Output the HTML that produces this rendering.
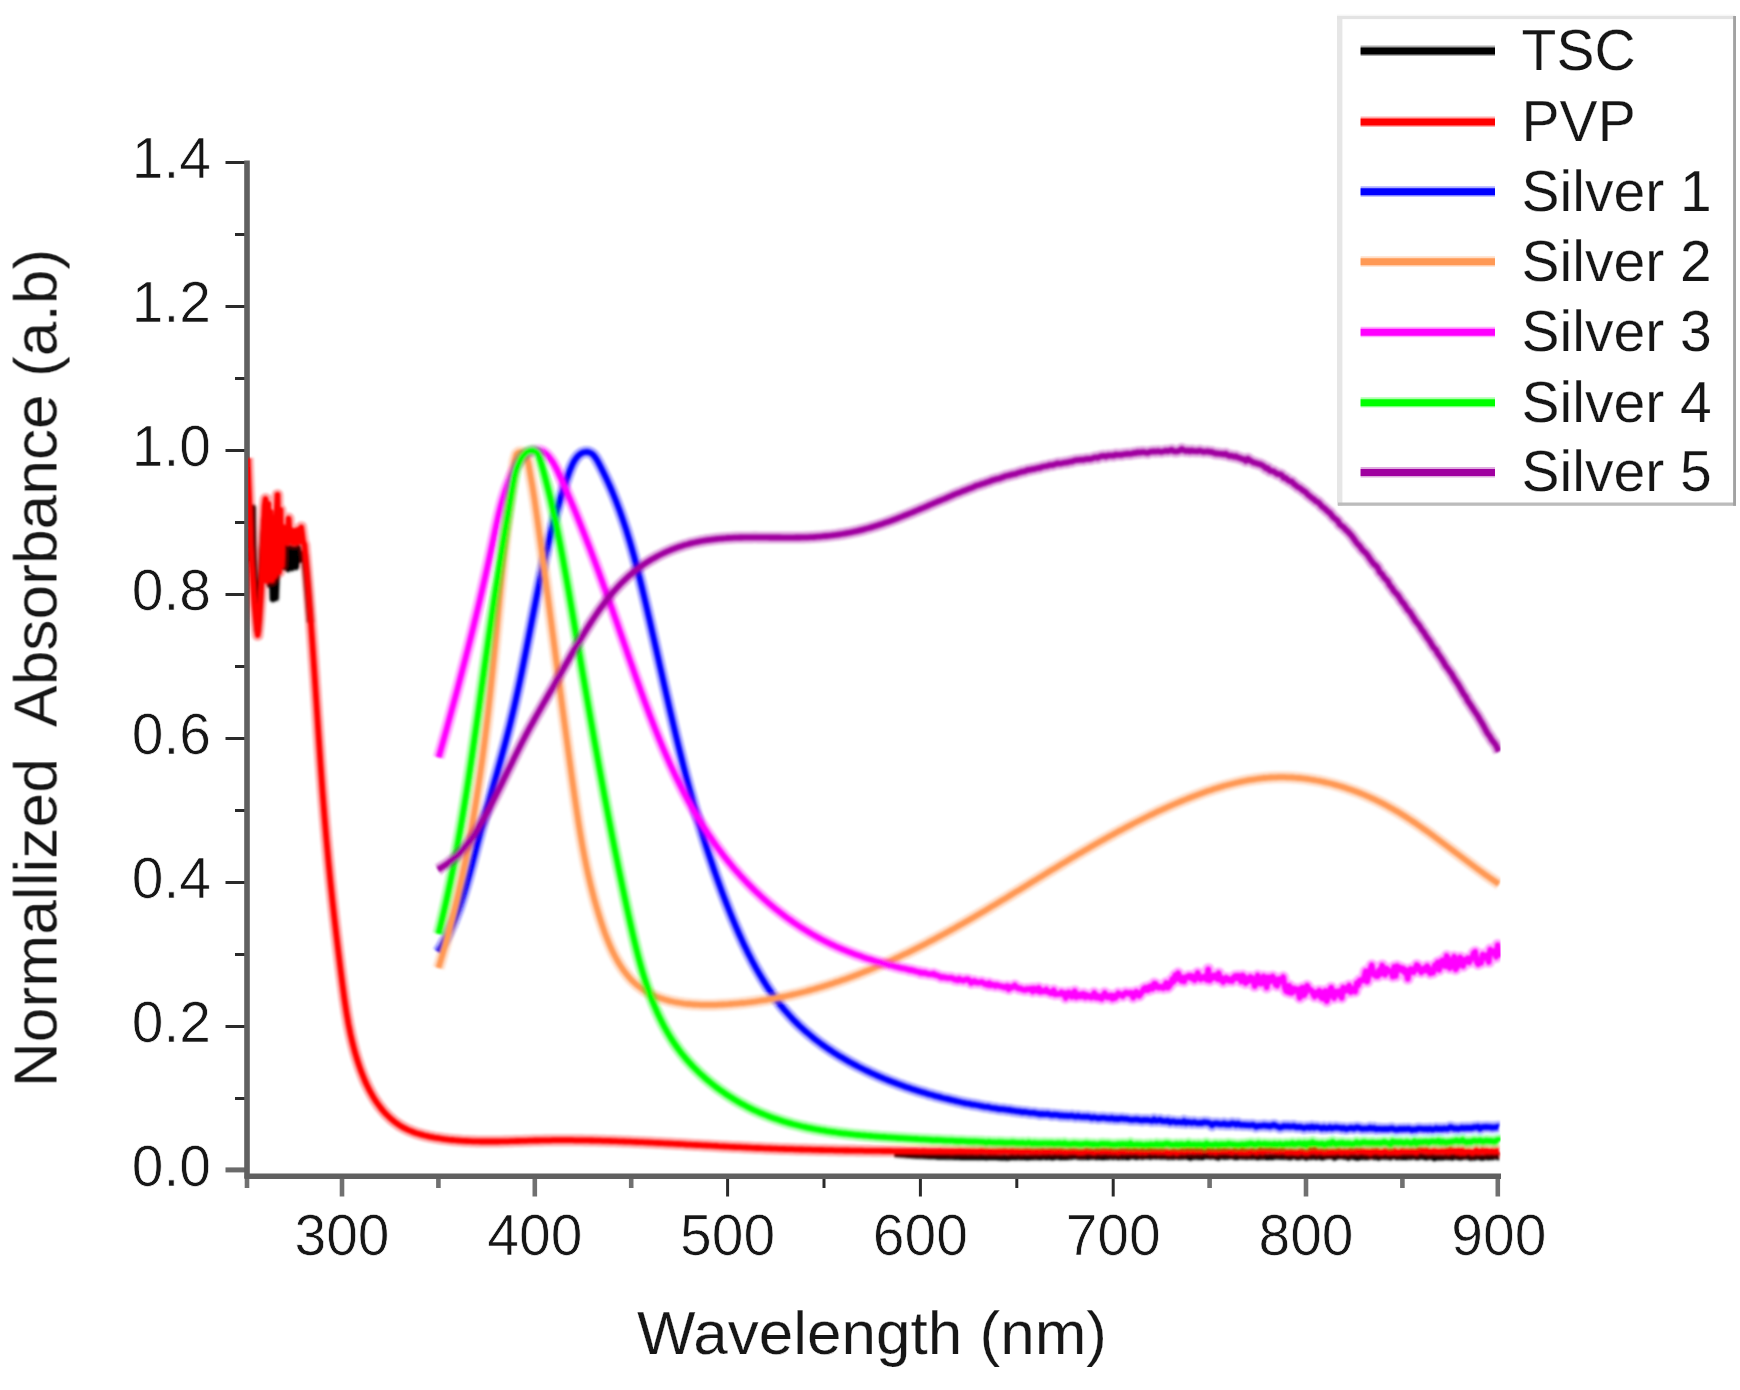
<!DOCTYPE html>
<html lang="en"><head><meta charset="utf-8"><title>Normalized absorbance spectra</title>
<style>html,body{margin:0;padding:0;background:#fff}body{width:1740px;height:1390px;overflow:hidden}svg{display:block}text{font-family:"Liberation Sans",sans-serif;fill:#141414;stroke:#fff;stroke-width:0.25px;paint-order:fill stroke}text.tk{stroke-width:0.7px;fill:#121212}</style></head><body>
<svg width="1740" height="1390" viewBox="0 0 1740 1390">
<defs><filter id="soft" x="-2%" y="-2%" width="104%" height="104%"><feGaussianBlur stdDeviation="0.6"/></filter><filter id="softer" x="-2%" y="-2%" width="104%" height="104%"><feGaussianBlur stdDeviation="0.7"/></filter><filter id="cblur" x="-2%" y="-2%" width="104%" height="104%"><feGaussianBlur stdDeviation="0.9"/></filter><clipPath id="plot"><rect x="248.2" y="150" width="1252.4" height="1040"/></clipPath><path id="c0" d="M249.0,530.0 L251.0,560.0 L252.2,530.0 L252.8,508.0 L253.2,548.0 L255.5,600.0 L257.6,630.0 L260.0,592.0 L262.4,548.0 L264.6,520.0 L266.5,560.0 L268.5,540.0 L270.0,585.0 L271.4,560.0 L272.8,599.0 L274.4,572.0 L275.8,598.0 L277.3,560.0 L279.0,540.0 L280.6,561.0 L282.5,545.0 L284.0,567.0 L286.0,548.0 L288.0,569.0 L290.0,548.0 L292.0,568.0 L294.0,549.0 L296.0,567.0 L298.0,548.0 L300.0,560.0 L302.0,554.0 L304.4,556.0 L306.4,575.0 L306.4,575.0 L308.4,597.9 L310.4,622.5 M894.4,1153.9 L896.4,1154.1 L898.4,1154.3 L900.4,1154.4 L902.4,1154.6 L904.4,1154.7 L906.4,1154.9 L908.4,1155.0 L910.4,1155.1 L912.4,1155.3 L914.4,1155.4 L916.4,1155.5 L918.4,1155.6 L920.4,1155.7 L922.4,1155.7 L924.4,1155.8 L926.4,1155.9 L928.4,1156.0 L930.4,1156.2 L932.4,1156.2 L934.4,1156.2 L936.4,1156.3 L938.4,1156.6 L940.4,1156.4 L942.4,1156.5 L944.4,1156.6 L946.4,1156.7 L948.4,1156.7 L950.4,1156.6 L952.4,1156.7 L954.4,1156.8 L956.4,1156.8 L958.4,1156.7 L960.4,1157.0 L962.4,1157.0 L964.4,1156.9 L966.4,1157.0 L968.4,1157.1 L970.4,1157.0 L972.4,1156.9 L974.4,1157.1 L976.4,1156.9 L978.4,1157.2 L980.4,1157.0 L982.4,1157.1 L984.4,1157.1 L986.4,1157.4 L988.4,1157.0 L990.4,1157.0 L992.4,1157.1 L994.4,1157.0 L996.4,1157.1 L998.4,1157.3 L1000.4,1157.3 L1002.4,1157.5 L1004.4,1157.1 L1006.4,1157.7 L1008.4,1157.6 L1010.4,1157.2 L1012.4,1156.8 L1014.4,1157.2 L1016.4,1157.2 L1018.4,1156.7 L1020.4,1157.2 L1022.4,1157.1 L1024.4,1157.0 L1026.4,1157.3 L1028.4,1157.3 L1030.4,1157.0 L1032.4,1157.1 L1034.4,1156.9 L1036.4,1156.9 L1038.4,1157.1 L1040.4,1157.2 L1042.4,1156.9 L1044.4,1156.5 L1046.4,1157.1 L1048.4,1156.6 L1050.4,1157.0 L1052.4,1157.4 L1054.4,1156.9 L1056.4,1156.6 L1058.4,1156.5 L1060.4,1157.2 L1062.4,1156.9 L1064.4,1157.0 L1066.4,1157.1 L1068.4,1156.8 L1070.4,1156.7 L1072.4,1156.5 L1074.4,1155.9 L1076.4,1156.3 L1078.4,1156.8 L1080.4,1156.7 L1082.4,1156.9 L1084.4,1156.7 L1086.4,1156.8 L1088.4,1157.0 L1090.4,1156.4 L1092.4,1156.6 L1094.4,1156.2 L1096.4,1157.0 L1098.4,1156.7 L1100.4,1156.8 L1102.4,1157.2 L1104.4,1157.0 L1106.4,1156.6 L1108.4,1156.9 L1110.4,1156.1 L1112.4,1156.8 L1114.4,1156.7 L1116.4,1156.0 L1118.4,1157.1 L1120.4,1156.3 L1122.4,1156.9 L1124.4,1156.4 L1126.4,1157.0 L1128.4,1157.1 L1130.4,1156.3 L1132.4,1156.0 L1134.4,1156.5 L1136.4,1156.9 L1138.4,1156.4 L1140.4,1156.3 L1142.4,1156.8 L1144.4,1155.4 L1146.4,1156.3 L1148.4,1156.0 L1150.4,1156.7 L1152.4,1156.2 L1154.4,1156.1 L1156.4,1156.4 L1158.4,1155.9 L1160.4,1156.5 L1162.4,1156.2 L1164.4,1156.4 L1166.4,1156.2 L1168.4,1156.9 L1170.4,1156.5 L1172.4,1156.8 L1174.4,1156.7 L1176.4,1156.2 L1178.4,1156.8 L1180.4,1156.7 L1182.4,1156.7 L1184.4,1156.3 L1186.4,1156.3 L1188.4,1156.9 L1190.4,1157.6 L1192.4,1156.1 L1194.4,1156.8 L1196.4,1156.3 L1198.4,1156.9 L1200.4,1156.7 L1202.4,1157.1 L1204.4,1155.1 L1206.4,1156.2 L1208.4,1156.0 L1210.4,1156.5 L1212.4,1156.2 L1214.4,1156.2 L1216.4,1156.9 L1218.4,1157.5 L1220.4,1155.1 L1222.4,1156.4 L1224.4,1156.7 L1226.4,1156.6 L1228.4,1156.4 L1230.4,1155.9 L1232.4,1156.1 L1234.4,1156.9 L1236.4,1157.1 L1238.4,1156.6 L1240.4,1156.2 L1242.4,1156.6 L1244.4,1156.5 L1246.4,1156.9 L1248.4,1156.6 L1250.4,1156.3 L1252.4,1156.7 L1254.4,1156.0 L1256.4,1157.0 L1258.4,1157.2 L1260.4,1156.0 L1262.4,1156.8 L1264.4,1156.1 L1266.4,1157.1 L1268.4,1157.1 L1270.4,1156.5 L1272.4,1157.1 L1274.4,1156.4 L1276.4,1156.3 L1278.4,1156.4 L1280.4,1156.6 L1282.4,1156.5 L1284.4,1156.7 L1286.4,1156.3 L1288.4,1157.0 L1290.4,1157.2 L1292.4,1156.4 L1294.4,1156.0 L1296.4,1157.0 L1298.4,1157.2 L1300.4,1156.6 L1302.4,1156.0 L1304.4,1156.8 L1306.4,1157.5 L1308.4,1155.8 L1310.4,1156.9 L1312.4,1156.6 L1314.4,1156.3 L1316.4,1157.0 L1318.4,1156.1 L1320.4,1156.9 L1322.4,1157.4 L1324.4,1156.8 L1326.4,1156.3 L1328.4,1155.9 L1330.4,1156.1 L1332.4,1155.8 L1334.4,1157.6 L1336.4,1156.6 L1338.4,1156.2 L1340.4,1156.1 L1342.4,1156.2 L1344.4,1156.6 L1346.4,1156.1 L1348.4,1157.6 L1350.4,1156.4 L1352.4,1156.4 L1354.4,1156.9 L1356.4,1157.5 L1358.4,1157.5 L1360.4,1156.6 L1362.4,1156.9 L1364.4,1156.9 L1366.4,1157.1 L1368.4,1156.9 L1370.4,1156.3 L1372.4,1156.2 L1374.4,1156.9 L1376.4,1156.2 L1378.4,1157.5 L1380.4,1156.8 L1382.4,1156.3 L1384.4,1156.7 L1386.4,1156.6 L1388.4,1156.8 L1390.4,1157.3 L1392.4,1156.1 L1394.4,1155.9 L1396.4,1157.0 L1398.4,1156.8 L1400.4,1156.9 L1402.4,1157.1 L1404.4,1156.8 L1406.4,1157.2 L1408.4,1156.4 L1410.4,1156.9 L1412.4,1156.4 L1414.4,1156.3 L1416.4,1157.2 L1418.4,1157.1 L1420.4,1155.9 L1422.4,1156.3 L1424.4,1157.0 L1426.4,1157.4 L1428.4,1156.5 L1430.4,1156.8 L1432.4,1156.1 L1434.4,1158.1 L1436.4,1157.1 L1438.4,1157.3 L1440.4,1157.2 L1442.4,1157.3 L1444.4,1157.1 L1446.4,1156.7 L1448.4,1157.2 L1450.4,1156.9 L1452.4,1157.5 L1454.4,1156.5 L1456.4,1156.5 L1458.4,1157.1 L1460.4,1157.4 L1462.4,1156.9 L1464.4,1156.4 L1466.4,1156.7 L1468.4,1156.5 L1470.4,1157.7 L1472.4,1157.2 L1474.4,1157.4 L1476.4,1156.9 L1478.4,1156.5 L1480.4,1157.3 L1482.4,1157.6 L1484.4,1157.0 L1486.4,1156.7 L1488.4,1157.3 L1490.4,1156.5 L1492.4,1157.1 L1494.4,1156.4 L1496.4,1156.2 L1498.4,1157.0 L1499.0,1156.9"/><path id="c1" d="M247.6,458.0 L248.6,485.0 L249.5,506.0 L250.0,525.0 L250.6,545.0 L251.6,562.0 L253.0,582.0 L254.4,603.0 L256.2,622.0 L257.7,635.0 L259.2,620.0 L260.6,598.0 L262.2,566.0 L263.4,532.0 L264.6,506.0 L265.6,499.0 L266.4,540.0 L267.0,581.0 L267.8,540.0 L268.4,504.0 L269.4,576.0 L270.6,512.0 L272.0,580.0 L273.6,518.0 L275.0,576.0 L276.4,520.0 L277.5,495.0 L278.4,540.0 L279.2,572.0 L280.5,510.0 L281.8,566.0 L283.0,527.0 L284.4,541.0 L286.0,528.0 L287.4,543.0 L288.6,518.6 L290.0,541.0 L291.5,530.0 L293.0,543.0 L294.5,531.0 L296.0,543.0 L297.6,530.0 L299.4,542.0 L301.2,527.3 L303.0,541.0 L304.5,545.0 L304.5,545.0 L306.5,566.9 L308.5,590.8 L310.5,616.7 L312.5,644.5 L314.5,673.9 L316.5,704.1 L318.5,734.3 L320.5,763.5 L322.5,791.1 L324.5,816.7 L326.5,840.3 L328.5,861.9 L330.5,882.1 L332.5,901.0 L334.5,919.0 L336.5,936.3 L338.5,952.9 L340.5,969.0 L342.5,984.6 L344.5,999.5 L346.5,1012.7 L348.5,1024.2 L350.5,1034.1 L352.5,1042.8 L354.5,1050.6 L356.5,1057.5 L358.5,1063.8 L360.5,1069.6 L362.5,1074.8 L364.5,1079.7 L366.5,1084.2 L368.5,1088.3 L370.5,1092.1 L372.5,1095.7 L374.5,1099.0 L376.5,1102.1 L378.5,1104.9 L380.5,1107.6 L382.5,1110.1 L384.5,1112.4 L386.5,1114.5 L388.5,1116.5 L390.5,1118.4 L392.5,1120.1 L394.5,1121.7 L396.5,1123.2 L398.5,1124.6 L400.5,1125.9 L402.5,1127.1 L404.5,1128.2 L406.5,1129.2 L408.5,1130.1 L410.5,1130.9 L412.5,1131.7 L414.5,1132.5 L416.5,1133.2 L418.5,1133.8 L420.5,1134.4 L422.5,1134.9 L424.5,1135.5 L426.5,1135.9 L428.5,1136.4 L430.5,1136.8 L432.5,1137.2 L434.5,1137.6 L436.5,1137.9 L438.5,1138.2 L440.5,1138.5 L442.5,1138.8 L444.5,1139.1 L446.5,1139.3 L448.5,1139.6 L450.5,1139.8 L452.5,1140.0 L454.5,1140.2 L456.5,1140.3 L458.5,1140.5 L460.5,1140.6 L462.5,1140.8 L464.5,1140.9 L466.5,1141.0 L468.5,1141.1 L470.5,1141.2 L472.5,1141.3 L474.5,1141.3 L476.5,1141.4 L478.5,1141.4 L480.5,1141.5 L482.5,1141.5 L484.5,1141.5 L486.5,1141.5 L488.5,1141.5 L490.5,1141.5 L492.5,1141.5 L494.5,1141.5 L496.5,1141.5 L498.5,1141.5 L500.5,1141.4 L502.5,1141.4 L504.5,1141.3 L506.5,1141.3 L508.5,1141.3 L510.5,1141.2 L512.5,1141.2 L514.5,1141.1 L516.5,1141.0 L518.5,1141.0 L520.5,1140.9 L522.5,1140.9 L524.5,1140.8 L526.5,1140.8 L528.5,1140.7 L530.5,1140.7 L532.5,1140.6 L534.5,1140.5 L536.5,1140.5 L538.5,1140.5 L540.5,1140.4 L542.5,1140.4 L544.5,1140.3 L546.5,1140.3 L548.5,1140.3 L550.5,1140.3 L552.5,1140.2 L554.5,1140.2 L556.5,1140.2 L558.5,1140.2 L560.5,1140.2 L562.5,1140.2 L564.5,1140.2 L566.5,1140.2 L568.5,1140.2 L570.5,1140.2 L572.5,1140.2 L574.5,1140.3 L576.5,1140.3 L578.5,1140.3 L580.5,1140.3 L582.5,1140.3 L584.5,1140.4 L586.5,1140.4 L588.5,1140.4 L590.5,1140.5 L592.5,1140.5 L594.5,1140.6 L596.5,1140.6 L598.5,1140.7 L600.5,1140.7 L602.5,1140.8 L604.5,1140.8 L606.5,1140.9 L608.5,1140.9 L610.5,1141.0 L612.5,1141.1 L614.5,1141.1 L616.5,1141.2 L618.5,1141.3 L620.5,1141.3 L622.5,1141.4 L624.5,1141.5 L626.5,1141.6 L628.5,1141.6 L630.5,1141.7 L632.5,1141.8 L634.5,1141.9 L636.5,1142.0 L638.5,1142.1 L640.5,1142.2 L642.5,1142.2 L644.5,1142.3 L646.5,1142.4 L648.5,1142.5 L650.5,1142.6 L652.5,1142.7 L654.5,1142.8 L656.5,1142.9 L658.5,1143.0 L660.5,1143.1 L662.5,1143.2 L664.5,1143.3 L666.5,1143.4 L668.5,1143.5 L670.5,1143.6 L672.5,1143.7 L674.5,1143.8 L676.5,1143.9 L678.5,1144.0 L680.5,1144.1 L682.5,1144.2 L684.5,1144.3 L686.5,1144.5 L688.5,1144.6 L690.5,1144.7 L692.5,1144.8 L694.5,1144.9 L696.5,1145.0 L698.5,1145.1 L700.5,1145.2 L702.5,1145.3 L704.5,1145.4 L706.5,1145.5 L708.5,1145.6 L710.5,1145.7 L712.5,1145.8 L714.5,1145.9 L716.5,1146.0 L718.5,1146.2 L720.5,1146.3 L722.5,1146.4 L724.5,1146.5 L726.5,1146.6 L728.5,1146.7 L730.5,1146.8 L732.5,1146.9 L734.5,1147.0 L736.5,1147.1 L738.5,1147.1 L740.5,1147.2 L742.5,1147.3 L744.5,1147.4 L746.5,1147.5 L748.5,1147.6 L750.5,1147.7 L752.5,1147.8 L754.5,1147.9 L756.5,1148.0 L758.5,1148.0 L760.5,1148.1 L762.5,1148.2 L764.5,1148.3 L766.5,1148.4 L768.5,1148.4 L770.5,1148.5 L772.5,1148.6 L774.5,1148.7 L776.5,1148.7 L778.5,1148.8 L780.5,1148.9 L782.5,1148.9 L784.5,1149.0 L786.5,1149.1 L788.5,1149.1 L790.5,1149.2 L792.5,1149.2 L794.5,1149.3 L796.5,1149.4 L798.5,1149.4 L800.5,1149.5 L802.5,1149.5 L804.5,1149.6 L806.5,1149.6 L808.5,1149.7 L810.5,1149.7 L812.5,1149.8 L814.5,1149.8 L816.5,1149.9 L818.5,1149.9 L820.5,1150.0 L822.5,1150.0 L824.5,1150.1 L826.5,1150.1 L828.5,1150.2 L830.5,1150.2 L832.5,1150.2 L834.5,1150.3 L836.5,1150.3 L838.5,1150.4 L840.5,1150.4 L842.5,1150.4 L844.5,1150.5 L846.5,1150.5 L848.5,1150.5 L850.5,1150.6 L852.5,1150.6 L854.5,1150.6 L856.5,1150.7 L858.5,1150.7 L860.5,1150.7 L862.5,1150.7 L864.5,1150.8 L866.5,1150.8 L868.5,1150.8 L870.5,1150.8 L872.5,1150.9 L874.5,1150.9 L876.5,1150.9 L878.5,1150.9 L880.5,1150.9 L882.5,1151.0 L884.5,1151.0 L886.5,1151.0 L888.5,1151.0 L890.5,1151.0 L892.5,1151.1 L894.5,1151.1 L896.5,1151.1 L898.5,1151.1 L900.5,1151.1 L902.5,1151.1 L904.5,1151.1 L906.5,1151.2 L908.5,1151.2 L910.5,1151.2 L912.5,1151.2 L914.5,1151.2 L916.5,1151.2 L918.5,1151.3 L920.5,1151.3 L922.5,1151.2 L924.5,1151.2 L926.5,1151.3 L928.5,1151.4 L930.5,1151.3 L932.5,1151.3 L934.5,1151.3 L936.5,1151.3 L938.5,1151.3 L940.5,1151.2 L942.5,1151.3 L944.5,1151.3 L946.5,1151.3 L948.5,1151.4 L950.5,1151.5 L952.5,1151.5 L954.5,1151.3 L956.5,1151.3 L958.5,1151.3 L960.5,1151.2 L962.5,1151.4 L964.5,1151.4 L966.5,1151.4 L968.5,1151.4 L970.5,1151.4 L972.5,1151.3 L974.5,1151.3 L976.5,1151.6 L978.5,1151.5 L980.5,1151.2 L982.5,1151.2 L984.5,1151.3 L986.5,1151.4 L988.5,1151.6 L990.5,1151.6 L992.5,1151.6 L994.5,1151.6 L996.5,1151.6 L998.5,1151.5 L1000.5,1151.5 L1002.5,1151.4 L1004.5,1151.0 L1006.5,1151.3 L1008.5,1151.8 L1010.5,1151.3 L1012.5,1151.2 L1014.5,1151.6 L1016.5,1151.4 L1018.5,1151.3 L1020.5,1151.8 L1022.5,1151.5 L1024.5,1151.6 L1026.5,1151.2 L1028.5,1151.5 L1030.5,1151.5 L1032.5,1151.6 L1034.5,1151.7 L1036.5,1151.7 L1038.5,1151.4 L1040.5,1151.6 L1042.5,1151.1 L1044.5,1151.6 L1046.5,1151.6 L1048.5,1151.3 L1050.5,1151.2 L1052.5,1151.4 L1054.5,1151.0 L1056.5,1151.5 L1058.5,1151.5 L1060.5,1151.1 L1062.5,1151.4 L1064.5,1151.8 L1066.5,1151.8 L1068.5,1151.7 L1070.5,1151.4 L1072.5,1151.3 L1074.5,1151.3 L1076.5,1151.6 L1078.5,1152.3 L1080.5,1151.9 L1082.5,1152.0 L1084.5,1151.9 L1086.5,1150.8 L1088.5,1151.3 L1090.5,1151.3 L1092.5,1151.9 L1094.5,1152.1 L1096.5,1151.2 L1098.5,1151.4 L1100.5,1151.6 L1102.5,1151.2 L1104.5,1151.2 L1106.5,1151.2 L1108.5,1151.8 L1110.5,1151.0 L1112.5,1151.9 L1114.5,1151.5 L1116.5,1151.8 L1118.5,1152.1 L1120.5,1151.1 L1122.5,1151.1 L1124.5,1151.6 L1126.5,1151.0 L1128.5,1151.1 L1130.5,1151.4 L1132.5,1151.5 L1134.5,1150.9 L1136.5,1151.3 L1138.5,1151.7 L1140.5,1152.1 L1142.5,1150.5 L1144.5,1152.1 L1146.5,1151.9 L1148.5,1150.9 L1150.5,1150.7 L1152.5,1151.7 L1154.5,1151.2 L1156.5,1151.5 L1158.5,1151.9 L1160.5,1151.3 L1162.5,1151.5 L1164.5,1151.7 L1166.5,1151.9 L1168.5,1152.4 L1170.5,1152.4 L1172.5,1151.6 L1174.5,1151.3 L1176.5,1152.8 L1178.5,1151.8 L1180.5,1151.7 L1182.5,1150.9 L1184.5,1151.9 L1186.5,1151.0 L1188.5,1151.2 L1190.5,1150.7 L1192.5,1151.2 L1194.5,1151.5 L1196.5,1150.6 L1198.5,1151.0 L1200.5,1151.4 L1202.5,1150.7 L1204.5,1150.7 L1206.5,1151.0 L1208.5,1150.7 L1210.5,1151.9 L1212.5,1150.9 L1214.5,1152.0 L1216.5,1152.0 L1218.5,1150.8 L1220.5,1151.5 L1222.5,1151.2 L1224.5,1150.8 L1226.5,1151.3 L1228.5,1151.4 L1230.5,1151.9 L1232.5,1152.1 L1234.5,1150.8 L1236.5,1151.3 L1238.5,1151.8 L1240.5,1152.2 L1242.5,1150.0 L1244.5,1152.3 L1246.5,1151.4 L1248.5,1152.4 L1250.5,1151.3 L1252.5,1151.0 L1254.5,1151.5 L1256.5,1152.2 L1258.5,1151.5 L1260.5,1150.1 L1262.5,1151.9 L1264.5,1150.6 L1266.5,1150.9 L1268.5,1150.8 L1270.5,1150.4 L1272.5,1150.8 L1274.5,1150.9 L1276.5,1151.2 L1278.5,1151.5 L1280.5,1151.3 L1282.5,1150.6 L1284.5,1151.4 L1286.5,1152.1 L1288.5,1152.1 L1290.5,1151.6 L1292.5,1151.9 L1294.5,1152.1 L1296.5,1152.3 L1298.5,1152.5 L1300.5,1151.3 L1302.5,1151.4 L1304.5,1152.4 L1306.5,1152.5 L1308.5,1152.5 L1310.5,1150.1 L1312.5,1151.4 L1314.5,1149.6 L1316.5,1152.0 L1318.5,1151.6 L1320.5,1151.6 L1322.5,1151.5 L1324.5,1152.3 L1326.5,1151.4 L1328.5,1152.2 L1330.5,1151.9 L1332.5,1151.8 L1334.5,1151.8 L1336.5,1151.6 L1338.5,1150.9 L1340.5,1152.0 L1342.5,1152.0 L1344.5,1151.5 L1346.5,1152.0 L1348.5,1152.1 L1350.5,1150.8 L1352.5,1151.5 L1354.5,1151.3 L1356.5,1151.0 L1358.5,1151.7 L1360.5,1151.0 L1362.5,1151.3 L1364.5,1151.7 L1366.5,1151.8 L1368.5,1151.7 L1370.5,1152.9 L1372.5,1151.2 L1374.5,1151.7 L1376.5,1150.8 L1378.5,1151.8 L1380.5,1152.2 L1382.5,1152.3 L1384.5,1151.2 L1386.5,1151.4 L1388.5,1152.3 L1390.5,1151.5 L1392.5,1152.1 L1394.5,1151.0 L1396.5,1152.4 L1398.5,1152.2 L1400.5,1151.8 L1402.5,1151.1 L1404.5,1151.4 L1406.5,1151.6 L1408.5,1151.7 L1410.5,1151.5 L1412.5,1151.4 L1414.5,1151.7 L1416.5,1152.4 L1418.5,1150.3 L1420.5,1150.7 L1422.5,1150.6 L1424.5,1151.1 L1426.5,1150.5 L1428.5,1151.9 L1430.5,1151.6 L1432.5,1151.4 L1434.5,1151.1 L1436.5,1151.6 L1438.5,1151.6 L1440.5,1151.7 L1442.5,1151.1 L1444.5,1151.9 L1446.5,1150.7 L1448.5,1152.3 L1450.5,1149.7 L1452.5,1151.2 L1454.5,1150.8 L1456.5,1152.0 L1458.5,1150.6 L1460.5,1152.6 L1462.5,1150.6 L1464.5,1152.7 L1466.5,1151.8 L1468.5,1151.5 L1470.5,1151.8 L1472.5,1152.8 L1474.5,1152.1 L1476.5,1150.2 L1478.5,1152.2 L1480.5,1151.7 L1482.5,1150.5 L1484.5,1152.0 L1486.5,1150.8 L1488.5,1151.6 L1490.5,1151.6 L1492.5,1151.1 L1494.5,1151.9 L1496.5,1150.9 L1498.5,1151.6 L1499.0,1151.2"/><path id="c2" d="M438.0,952.0 L440.0,948.8 L442.0,945.5 L444.0,941.9 L446.0,938.2 L448.0,934.3 L450.0,930.1 L452.0,925.7 L454.0,921.1 L456.0,916.1 L458.0,910.9 L460.0,905.3 L462.0,899.3 L464.0,893.0 L466.0,886.3 L468.0,879.3 L470.0,872.0 L472.0,864.4 L474.0,856.7 L476.0,849.0 L478.0,841.3 L480.0,833.8 L482.0,826.4 L484.0,819.2 L486.0,812.0 L488.0,804.9 L490.0,797.8 L492.0,790.8 L494.0,783.7 L496.0,776.7 L498.0,769.6 L500.0,762.4 L502.0,755.1 L504.0,747.7 L506.0,740.2 L508.0,732.5 L510.0,724.6 L512.0,716.3 L514.0,707.8 L516.0,699.0 L518.0,689.9 L520.0,680.5 L522.0,670.8 L524.0,660.9 L526.0,650.8 L528.0,640.6 L530.0,630.4 L532.0,620.1 L534.0,609.9 L536.0,599.8 L538.0,589.9 L540.0,580.2 L542.0,570.8 L544.0,561.7 L546.0,552.9 L548.0,544.4 L550.0,536.2 L552.0,528.3 L554.0,520.8 L556.0,513.5 L558.0,506.6 L560.0,499.9 L562.0,493.5 L564.0,487.3 L566.0,481.3 L568.0,475.5 L570.0,470.1 L572.0,465.3 L574.0,461.4 L576.0,458.3 L578.0,455.9 L580.0,454.2 L582.0,453.0 L584.0,452.3 L586.0,452.0 L588.0,452.1 L590.0,452.7 L592.0,453.8 L594.0,455.7 L596.0,458.4 L598.0,461.9 L600.0,465.7 L602.0,469.6 L604.0,473.6 L606.0,477.8 L608.0,482.1 L610.0,486.5 L612.0,491.2 L614.0,496.0 L616.0,501.0 L618.0,506.2 L620.0,511.6 L622.0,517.2 L624.0,523.1 L626.0,529.2 L628.0,535.6 L630.0,542.2 L632.0,549.1 L634.0,556.3 L636.0,563.8 L638.0,571.5 L640.0,579.5 L642.0,587.7 L644.0,596.1 L646.0,604.6 L648.0,613.3 L650.0,622.0 L652.0,630.8 L654.0,639.6 L656.0,648.5 L658.0,657.4 L660.0,666.3 L662.0,675.2 L664.0,684.1 L666.0,692.9 L668.0,701.6 L670.0,710.3 L672.0,718.9 L674.0,727.4 L676.0,735.8 L678.0,744.1 L680.0,752.2 L682.0,760.3 L684.0,768.2 L686.0,775.9 L688.0,783.5 L690.0,791.0 L692.0,798.3 L694.0,805.5 L696.0,812.5 L698.0,819.4 L700.0,826.1 L702.0,832.7 L704.0,839.2 L706.0,845.6 L708.0,851.8 L710.0,857.9 L712.0,863.8 L714.0,869.7 L716.0,875.4 L718.0,881.0 L720.0,886.5 L722.0,891.9 L724.0,897.2 L726.0,902.4 L728.0,907.5 L730.0,912.5 L732.0,917.4 L734.0,922.2 L736.0,926.9 L738.0,931.5 L740.0,936.0 L742.0,940.4 L744.0,944.7 L746.0,948.8 L748.0,952.9 L750.0,956.8 L752.0,960.7 L754.0,964.4 L756.0,968.1 L758.0,971.6 L760.0,975.0 L762.0,978.4 L764.0,981.6 L766.0,984.8 L768.0,987.8 L770.0,990.8 L772.0,993.7 L774.0,996.5 L776.0,999.2 L778.0,1001.8 L780.0,1004.4 L782.0,1006.9 L784.0,1009.3 L786.0,1011.6 L788.0,1013.9 L790.0,1016.1 L792.0,1018.3 L794.0,1020.4 L796.0,1022.4 L798.0,1024.4 L800.0,1026.3 L802.0,1028.1 L804.0,1030.0 L806.0,1031.7 L808.0,1033.4 L810.0,1035.1 L812.0,1036.8 L814.0,1038.4 L816.0,1040.0 L818.0,1041.5 L820.0,1043.0 L822.0,1044.5 L824.0,1045.9 L826.0,1047.3 L828.0,1048.7 L830.0,1050.0 L832.0,1051.4 L834.0,1052.7 L836.0,1053.9 L838.0,1055.2 L840.0,1056.4 L842.0,1057.6 L844.0,1058.8 L846.0,1059.9 L848.0,1061.1 L850.0,1062.2 L852.0,1063.3 L854.0,1064.4 L856.0,1065.4 L858.0,1066.5 L860.0,1067.5 L862.0,1068.5 L864.0,1069.5 L866.0,1070.5 L868.0,1071.4 L870.0,1072.4 L872.0,1073.3 L874.0,1074.2 L876.0,1075.1 L878.0,1076.0 L880.0,1076.9 L882.0,1077.7 L884.0,1078.6 L886.0,1079.4 L888.0,1080.2 L890.0,1081.0 L892.0,1081.8 L894.0,1082.5 L896.0,1083.3 L898.0,1084.1 L900.0,1084.8 L902.0,1085.5 L904.0,1086.2 L906.0,1087.0 L908.0,1087.6 L910.0,1088.3 L912.0,1089.0 L914.0,1089.6 L916.0,1090.3 L918.0,1090.9 L920.0,1091.5 L922.0,1092.1 L924.0,1092.6 L926.0,1093.2 L928.0,1093.9 L930.0,1094.5 L932.0,1094.9 L934.0,1095.6 L936.0,1096.2 L938.0,1096.6 L940.0,1097.1 L942.0,1097.7 L944.0,1098.2 L946.0,1098.7 L948.0,1099.1 L950.0,1099.6 L952.0,1100.1 L954.0,1100.5 L956.0,1101.1 L958.0,1101.5 L960.0,1102.0 L962.0,1102.5 L964.0,1102.9 L966.0,1103.3 L968.0,1103.6 L970.0,1103.9 L972.0,1104.6 L974.0,1104.6 L976.0,1105.0 L978.0,1105.3 L980.0,1105.8 L982.0,1106.2 L984.0,1106.6 L986.0,1106.8 L988.0,1106.9 L990.0,1107.5 L992.0,1107.9 L994.0,1108.1 L996.0,1108.4 L998.0,1108.8 L1000.0,1109.2 L1002.0,1109.2 L1004.0,1109.3 L1006.0,1109.7 L1008.0,1110.0 L1010.0,1110.0 L1012.0,1110.7 L1014.0,1110.7 L1016.0,1111.2 L1018.0,1111.4 L1020.0,1111.5 L1022.0,1112.1 L1024.0,1111.9 L1026.0,1112.1 L1028.0,1112.5 L1030.0,1112.9 L1032.0,1112.9 L1034.0,1112.9 L1036.0,1113.4 L1038.0,1113.6 L1040.0,1114.2 L1042.0,1113.8 L1044.0,1114.1 L1046.0,1114.1 L1048.0,1114.0 L1050.0,1114.6 L1052.0,1115.0 L1054.0,1114.6 L1056.0,1114.9 L1058.0,1114.9 L1060.0,1115.7 L1062.0,1115.4 L1064.0,1115.8 L1066.0,1115.6 L1068.0,1116.0 L1070.0,1115.9 L1072.0,1115.6 L1074.0,1116.4 L1076.0,1116.7 L1078.0,1116.0 L1080.0,1116.7 L1082.0,1116.8 L1084.0,1116.7 L1086.0,1117.0 L1088.0,1116.6 L1090.0,1117.4 L1092.0,1117.9 L1094.0,1117.2 L1096.0,1117.7 L1098.0,1118.3 L1100.0,1118.0 L1102.0,1117.8 L1104.0,1117.8 L1106.0,1118.3 L1108.0,1118.3 L1110.0,1118.7 L1112.0,1118.0 L1114.0,1119.0 L1116.0,1118.6 L1118.0,1119.1 L1120.0,1118.7 L1122.0,1118.5 L1124.0,1118.9 L1126.0,1118.9 L1128.0,1119.2 L1130.0,1119.7 L1132.0,1119.9 L1134.0,1119.7 L1136.0,1119.5 L1138.0,1119.6 L1140.0,1120.1 L1142.0,1120.4 L1144.0,1119.9 L1146.0,1120.1 L1148.0,1120.0 L1150.0,1120.5 L1152.0,1120.9 L1154.0,1119.3 L1156.0,1120.8 L1158.0,1120.5 L1160.0,1119.8 L1162.0,1121.1 L1164.0,1121.0 L1166.0,1121.3 L1168.0,1120.6 L1170.0,1122.3 L1172.0,1121.5 L1174.0,1121.4 L1176.0,1122.3 L1178.0,1122.0 L1180.0,1122.2 L1182.0,1122.5 L1184.0,1121.0 L1186.0,1122.9 L1188.0,1122.0 L1190.0,1122.4 L1192.0,1122.9 L1194.0,1122.1 L1196.0,1122.8 L1198.0,1123.1 L1200.0,1122.8 L1202.0,1123.1 L1204.0,1122.2 L1206.0,1122.5 L1208.0,1122.6 L1210.0,1123.4 L1212.0,1125.2 L1214.0,1123.6 L1216.0,1123.5 L1218.0,1123.6 L1220.0,1124.2 L1222.0,1124.2 L1224.0,1123.3 L1226.0,1124.5 L1228.0,1124.1 L1230.0,1124.6 L1232.0,1123.3 L1234.0,1123.6 L1236.0,1124.8 L1238.0,1123.6 L1240.0,1124.8 L1242.0,1124.9 L1244.0,1124.9 L1246.0,1125.1 L1248.0,1125.1 L1250.0,1125.3 L1252.0,1125.0 L1254.0,1125.2 L1256.0,1126.8 L1258.0,1126.0 L1260.0,1125.8 L1262.0,1125.8 L1264.0,1125.3 L1266.0,1125.9 L1268.0,1125.7 L1270.0,1126.4 L1272.0,1125.5 L1274.0,1124.9 L1276.0,1125.9 L1278.0,1126.6 L1280.0,1127.5 L1282.0,1126.9 L1284.0,1126.0 L1286.0,1126.4 L1288.0,1126.1 L1290.0,1126.6 L1292.0,1126.3 L1294.0,1126.0 L1296.0,1127.1 L1298.0,1127.0 L1300.0,1126.9 L1302.0,1127.3 L1304.0,1128.2 L1306.0,1127.3 L1308.0,1127.1 L1310.0,1127.8 L1312.0,1126.6 L1314.0,1127.8 L1316.0,1127.1 L1318.0,1127.2 L1320.0,1127.7 L1322.0,1128.5 L1324.0,1127.4 L1326.0,1128.3 L1328.0,1128.1 L1330.0,1127.2 L1332.0,1128.4 L1334.0,1127.6 L1336.0,1127.3 L1338.0,1127.7 L1340.0,1127.8 L1342.0,1128.5 L1344.0,1127.9 L1346.0,1129.1 L1348.0,1128.5 L1350.0,1128.0 L1352.0,1128.0 L1354.0,1128.6 L1356.0,1127.5 L1358.0,1127.5 L1360.0,1128.1 L1362.0,1128.9 L1364.0,1128.7 L1366.0,1128.7 L1368.0,1128.6 L1370.0,1127.6 L1372.0,1128.6 L1374.0,1127.9 L1376.0,1129.2 L1378.0,1128.8 L1380.0,1128.8 L1382.0,1129.1 L1384.0,1129.0 L1386.0,1129.0 L1388.0,1129.1 L1390.0,1128.6 L1392.0,1128.3 L1394.0,1129.1 L1396.0,1129.7 L1398.0,1129.5 L1400.0,1128.9 L1402.0,1129.3 L1404.0,1128.8 L1406.0,1129.2 L1408.0,1128.7 L1410.0,1129.1 L1412.0,1130.0 L1414.0,1129.4 L1416.0,1129.7 L1418.0,1128.6 L1420.0,1128.6 L1422.0,1128.9 L1424.0,1129.2 L1426.0,1128.8 L1428.0,1129.4 L1430.0,1128.6 L1432.0,1129.5 L1434.0,1129.3 L1436.0,1128.2 L1438.0,1129.1 L1440.0,1128.6 L1442.0,1129.2 L1444.0,1128.4 L1446.0,1128.8 L1448.0,1128.9 L1450.0,1127.2 L1452.0,1127.6 L1454.0,1128.6 L1456.0,1128.4 L1458.0,1128.9 L1460.0,1128.5 L1462.0,1127.7 L1464.0,1128.4 L1466.0,1127.8 L1468.0,1128.0 L1470.0,1127.8 L1472.0,1128.2 L1474.0,1127.2 L1476.0,1127.3 L1478.0,1126.7 L1480.0,1128.8 L1482.0,1127.2 L1484.0,1127.2 L1486.0,1127.0 L1488.0,1127.1 L1490.0,1127.2 L1492.0,1127.6 L1494.0,1127.3 L1496.0,1127.3 L1498.0,1126.7 L1499.0,1127.0"/><path id="c3" d="M438.5,968.0 L440.5,961.4 L442.5,954.6 L444.5,947.7 L446.5,940.5 L448.5,933.2 L450.5,925.6 L452.5,917.8 L454.5,909.8 L456.5,901.5 L458.5,892.9 L460.5,884.0 L462.5,874.8 L464.5,865.2 L466.5,855.3 L468.5,845.0 L470.5,834.2 L472.5,822.9 L474.5,811.2 L476.5,798.8 L478.5,785.9 L480.5,772.2 L482.5,757.8 L484.5,742.5 L486.5,726.3 L488.5,709.2 L490.5,690.9 L492.5,671.7 L494.5,651.5 L496.5,630.7 L498.5,609.5 L500.5,588.3 L502.5,567.5 L504.5,547.4 L506.5,528.2 L508.5,510.0 L510.5,492.8 L512.5,476.6 L514.5,461.4 L516.5,454.4 L518.5,452.5 L520.5,452.2 L522.5,452.5 L524.5,453.6 L526.5,456.0 L528.5,463.7 L530.5,475.4 L532.5,486.7 L534.5,499.4 L536.5,513.3 L538.5,527.6 L540.5,542.0 L542.5,556.7 L544.5,571.5 L546.5,586.4 L548.5,601.5 L550.5,616.6 L552.5,631.9 L554.5,647.1 L556.5,662.4 L558.5,677.7 L560.5,692.9 L562.5,708.0 L564.5,723.0 L566.5,737.9 L568.5,752.6 L570.5,767.2 L572.5,781.5 L574.5,795.7 L576.5,809.4 L578.5,822.5 L580.5,834.8 L582.5,846.3 L584.5,856.8 L586.5,866.7 L588.5,875.8 L590.5,884.3 L592.5,892.3 L594.5,899.9 L596.5,907.0 L598.5,913.7 L600.5,920.1 L602.5,926.2 L604.5,931.9 L606.5,937.2 L608.5,942.2 L610.5,946.8 L612.5,951.2 L614.5,955.2 L616.5,959.0 L618.5,962.5 L620.5,965.7 L622.5,968.8 L624.5,971.6 L626.5,974.2 L628.5,976.6 L630.5,978.9 L632.5,981.0 L634.5,982.9 L636.5,984.7 L638.5,986.3 L640.5,987.8 L642.5,989.3 L644.5,990.6 L646.5,991.8 L648.5,992.9 L650.5,993.9 L652.5,994.9 L654.5,995.8 L656.5,996.7 L658.5,997.4 L660.5,998.2 L662.5,998.8 L664.5,999.5 L666.5,1000.0 L668.5,1000.6 L670.5,1001.1 L672.5,1001.5 L674.5,1002.0 L676.5,1002.3 L678.5,1002.7 L680.5,1003.0 L682.5,1003.3 L684.5,1003.6 L686.5,1003.8 L688.5,1004.0 L690.5,1004.2 L692.5,1004.4 L694.5,1004.5 L696.5,1004.6 L698.5,1004.7 L700.5,1004.8 L702.5,1004.9 L704.5,1004.9 L706.5,1004.9 L708.5,1004.9 L710.5,1004.9 L712.5,1004.9 L714.5,1004.9 L716.5,1004.8 L718.5,1004.7 L720.5,1004.6 L722.5,1004.5 L724.5,1004.4 L726.5,1004.3 L728.5,1004.2 L730.5,1004.0 L732.5,1003.9 L734.5,1003.7 L736.5,1003.6 L738.5,1003.4 L740.5,1003.2 L742.5,1003.0 L744.5,1002.8 L746.5,1002.6 L748.5,1002.3 L750.5,1002.1 L752.5,1001.8 L754.5,1001.6 L756.5,1001.3 L758.5,1001.0 L760.5,1000.7 L762.5,1000.4 L764.5,1000.1 L766.5,999.8 L768.5,999.4 L770.5,999.1 L772.5,998.7 L774.5,998.4 L776.5,998.0 L778.5,997.6 L780.5,997.2 L782.5,996.8 L784.5,996.4 L786.5,996.0 L788.5,995.5 L790.5,995.1 L792.5,994.6 L794.5,994.2 L796.5,993.7 L798.5,993.2 L800.5,992.7 L802.5,992.2 L804.5,991.7 L806.5,991.2 L808.5,990.6 L810.5,990.1 L812.5,989.5 L814.5,989.0 L816.5,988.4 L818.5,987.8 L820.5,987.2 L822.5,986.6 L824.5,986.0 L826.5,985.4 L828.5,984.8 L830.5,984.1 L832.5,983.5 L834.5,982.8 L836.5,982.1 L838.5,981.5 L840.5,980.8 L842.5,980.1 L844.5,979.4 L846.5,978.7 L848.5,977.9 L850.5,977.2 L852.5,976.5 L854.5,975.7 L856.5,975.0 L858.5,974.2 L860.5,973.4 L862.5,972.6 L864.5,971.8 L866.5,971.0 L868.5,970.2 L870.5,969.4 L872.5,968.6 L874.5,967.7 L876.5,966.9 L878.5,966.0 L880.5,965.2 L882.5,964.3 L884.5,963.4 L886.5,962.5 L888.5,961.7 L890.5,960.8 L892.5,959.8 L894.5,958.9 L896.5,958.0 L898.5,957.1 L900.5,956.1 L902.5,955.2 L904.5,954.2 L906.5,953.3 L908.5,952.3 L910.5,951.3 L912.5,950.3 L914.5,949.3 L916.5,948.3 L918.5,947.3 L920.5,946.3 L922.5,945.3 L924.5,944.3 L926.5,943.3 L928.5,942.2 L930.5,941.2 L932.5,940.1 L934.5,939.1 L936.5,938.0 L938.5,936.9 L940.5,935.9 L942.5,934.8 L944.5,933.7 L946.5,932.6 L948.5,931.5 L950.5,930.4 L952.5,929.3 L954.5,928.2 L956.5,927.0 L958.5,925.9 L960.5,924.8 L962.5,923.7 L964.5,922.5 L966.5,921.4 L968.5,920.2 L970.5,919.1 L972.5,917.9 L974.5,916.7 L976.5,915.6 L978.5,914.4 L980.5,913.2 L982.5,912.1 L984.5,910.9 L986.5,909.7 L988.5,908.5 L990.5,907.3 L992.5,906.1 L994.5,904.9 L996.5,903.7 L998.5,902.5 L1000.5,901.3 L1002.5,900.1 L1004.5,898.9 L1006.5,897.7 L1008.5,896.5 L1010.5,895.2 L1012.5,894.0 L1014.5,892.8 L1016.5,891.6 L1018.5,890.4 L1020.5,889.2 L1022.5,887.9 L1024.5,886.7 L1026.5,885.5 L1028.5,884.3 L1030.5,883.0 L1032.5,881.8 L1034.5,880.6 L1036.5,879.4 L1038.5,878.1 L1040.5,876.9 L1042.5,875.7 L1044.5,874.5 L1046.5,873.3 L1048.5,872.0 L1050.5,870.8 L1052.5,869.6 L1054.5,868.4 L1056.5,867.2 L1058.5,866.0 L1060.5,864.8 L1062.5,863.6 L1064.5,862.4 L1066.5,861.2 L1068.5,860.0 L1070.5,858.8 L1072.5,857.6 L1074.5,856.4 L1076.5,855.2 L1078.5,854.0 L1080.5,852.9 L1082.5,851.7 L1084.5,850.5 L1086.5,849.4 L1088.5,848.2 L1090.5,847.0 L1092.5,845.9 L1094.5,844.8 L1096.5,843.6 L1098.5,842.5 L1100.5,841.3 L1102.5,840.2 L1104.5,839.1 L1106.5,838.0 L1108.5,836.9 L1110.5,835.8 L1112.5,834.7 L1114.5,833.6 L1116.5,832.5 L1118.5,831.4 L1120.5,830.3 L1122.5,829.3 L1124.5,828.2 L1126.5,827.1 L1128.5,826.1 L1130.5,825.1 L1132.5,824.0 L1134.5,823.0 L1136.5,822.0 L1138.5,821.0 L1140.5,820.0 L1142.5,819.0 L1144.5,818.0 L1146.5,817.0 L1148.5,816.0 L1150.5,815.0 L1152.5,814.1 L1154.5,813.1 L1156.5,812.2 L1158.5,811.2 L1160.5,810.3 L1162.5,809.4 L1164.5,808.5 L1166.5,807.6 L1168.5,806.7 L1170.5,805.8 L1172.5,804.9 L1174.5,804.1 L1176.5,803.2 L1178.5,802.4 L1180.5,801.5 L1182.5,800.7 L1184.5,799.9 L1186.5,799.1 L1188.5,798.3 L1190.5,797.5 L1192.5,796.7 L1194.5,795.9 L1196.5,795.2 L1198.5,794.4 L1200.5,793.7 L1202.5,792.9 L1204.5,792.2 L1206.5,791.5 L1208.5,790.8 L1210.5,790.2 L1212.5,789.5 L1214.5,788.8 L1216.5,788.2 L1218.5,787.6 L1220.5,787.0 L1222.5,786.4 L1224.5,785.8 L1226.5,785.3 L1228.5,784.7 L1230.5,784.2 L1232.5,783.7 L1234.5,783.2 L1236.5,782.7 L1238.5,782.3 L1240.5,781.8 L1242.5,781.4 L1244.5,781.0 L1246.5,780.6 L1248.5,780.2 L1250.5,779.9 L1252.5,779.6 L1254.5,779.3 L1256.5,779.0 L1258.5,778.7 L1260.5,778.5 L1262.5,778.2 L1264.5,778.0 L1266.5,777.8 L1268.5,777.7 L1270.5,777.5 L1272.5,777.4 L1274.5,777.3 L1276.5,777.3 L1278.5,777.2 L1280.5,777.2 L1282.5,777.2 L1284.5,777.2 L1286.5,777.3 L1288.5,777.3 L1290.5,777.4 L1292.5,777.5 L1294.5,777.7 L1296.5,777.8 L1298.5,778.0 L1300.5,778.2 L1302.5,778.4 L1304.5,778.6 L1306.5,778.9 L1308.5,779.2 L1310.5,779.5 L1312.5,779.8 L1314.5,780.1 L1316.5,780.5 L1318.5,780.8 L1320.5,781.2 L1322.5,781.7 L1324.5,782.1 L1326.5,782.6 L1328.5,783.0 L1330.5,783.5 L1332.5,784.0 L1334.5,784.6 L1336.5,785.1 L1338.5,785.7 L1340.5,786.3 L1342.5,786.9 L1344.5,787.5 L1346.5,788.2 L1348.5,788.9 L1350.5,789.6 L1352.5,790.3 L1354.5,791.0 L1356.5,791.7 L1358.5,792.5 L1360.5,793.3 L1362.5,794.1 L1364.5,794.9 L1366.5,795.8 L1368.5,796.7 L1370.5,797.6 L1372.5,798.5 L1374.5,799.4 L1376.5,800.4 L1378.5,801.3 L1380.5,802.3 L1382.5,803.4 L1384.5,804.4 L1386.5,805.5 L1388.5,806.6 L1390.5,807.7 L1392.5,808.8 L1394.5,810.0 L1396.5,811.1 L1398.5,812.3 L1400.5,813.5 L1402.5,814.8 L1404.5,816.0 L1406.5,817.3 L1408.5,818.6 L1410.5,819.9 L1412.5,821.2 L1414.5,822.5 L1416.5,823.9 L1418.5,825.3 L1420.5,826.7 L1422.5,828.1 L1424.5,829.5 L1426.5,830.9 L1428.5,832.3 L1430.5,833.8 L1432.5,835.2 L1434.5,836.7 L1436.5,838.2 L1438.5,839.7 L1440.5,841.2 L1442.5,842.7 L1444.5,844.2 L1446.5,845.7 L1448.5,847.2 L1450.5,848.7 L1452.5,850.2 L1454.5,851.8 L1456.5,853.3 L1458.5,854.8 L1460.5,856.3 L1462.5,857.8 L1464.5,859.3 L1466.5,860.8 L1468.5,862.3 L1470.5,863.8 L1472.5,865.3 L1474.5,866.8 L1476.5,868.3 L1478.5,869.7 L1480.5,871.2 L1482.5,872.6 L1484.5,874.1 L1486.5,875.5 L1488.5,876.9 L1490.5,878.3 L1492.5,879.6 L1494.5,881.0 L1496.5,882.3 L1498.5,883.7 L1499.0,884.0"/><path id="c4" d="M438.7,757.5 L440.2,752.1 L441.7,746.8 L443.2,741.4 L444.7,736.0 L446.2,730.6 L447.7,725.1 L449.2,719.6 L450.7,714.1 L452.2,708.6 L453.7,703.1 L455.2,697.5 L456.7,691.9 L458.2,686.2 L459.7,680.6 L461.2,674.8 L462.7,669.1 L464.2,663.3 L465.7,657.5 L467.2,651.6 L468.7,645.7 L470.2,639.7 L471.7,633.7 L473.2,627.7 L474.7,621.5 L476.2,615.4 L477.7,609.1 L479.2,602.8 L480.7,596.4 L482.2,590.0 L483.7,583.4 L485.2,576.8 L486.7,570.1 L488.2,563.3 L489.7,556.4 L491.2,549.4 L492.7,542.3 L494.2,535.1 L495.7,527.9 L497.2,521.0 L498.7,514.5 L500.2,508.5 L501.7,502.8 L503.2,497.7 L504.7,492.9 L506.2,488.5 L507.7,484.4 L509.2,480.7 L510.7,477.1 L512.2,473.8 L513.7,470.7 L515.2,467.8 L516.7,465.1 L518.2,462.6 L519.7,460.4 L521.2,458.6 L522.7,456.9 L524.2,455.5 L525.7,454.3 L527.2,453.3 L528.7,452.5 L530.2,451.8 L531.7,451.3 L533.2,450.9 L534.7,450.6 L536.2,450.4 L537.7,450.4 L539.2,450.5 L540.7,450.9 L542.2,451.4 L543.7,452.2 L545.2,453.3 L546.7,454.5 L548.2,456.1 L549.7,457.9 L551.2,459.9 L552.7,462.1 L554.2,464.6 L555.7,467.3 L557.2,470.2 L558.7,473.4 L560.2,476.7 L561.7,480.0 L563.2,483.4 L564.7,486.8 L566.2,490.3 L567.7,493.8 L569.2,497.3 L570.7,500.8 L572.2,504.3 L573.7,507.9 L575.2,511.5 L576.7,515.2 L578.2,518.9 L579.7,522.6 L581.2,526.3 L582.7,530.1 L584.2,533.9 L585.7,537.7 L587.2,541.6 L588.7,545.4 L590.2,549.3 L591.7,553.3 L593.2,557.2 L594.7,561.2 L596.2,565.2 L597.7,569.3 L599.2,573.3 L600.7,577.4 L602.2,581.5 L603.7,585.7 L605.2,589.8 L606.7,594.0 L608.2,598.2 L609.7,602.4 L611.2,606.6 L612.7,610.8 L614.2,615.1 L615.7,619.4 L617.2,623.6 L618.7,627.9 L620.2,632.2 L621.7,636.5 L623.2,640.8 L624.7,645.1 L626.2,649.4 L627.7,653.8 L629.2,658.1 L630.7,662.4 L632.2,666.6 L633.7,670.9 L635.2,675.2 L636.7,679.4 L638.2,683.6 L639.7,687.8 L641.2,691.9 L642.7,696.1 L644.2,700.2 L645.7,704.2 L647.2,708.2 L648.7,712.2 L650.2,716.2 L651.7,720.0 L653.2,723.9 L654.7,727.7 L656.2,731.5 L657.7,735.2 L659.2,738.9 L660.7,742.5 L662.2,746.1 L663.7,749.6 L665.2,753.1 L666.7,756.5 L668.2,759.9 L669.7,763.3 L671.2,766.6 L672.7,769.8 L674.2,773.0 L675.7,776.2 L677.2,779.3 L678.7,782.3 L680.2,785.3 L681.7,788.3 L683.2,791.2 L684.7,794.1 L686.2,797.0 L687.7,799.8 L689.2,802.5 L690.7,805.2 L692.2,807.9 L693.7,810.5 L695.2,813.1 L696.7,815.7 L698.2,818.2 L699.7,820.7 L701.2,823.1 L702.7,825.5 L704.2,827.9 L705.7,830.2 L707.2,832.5 L708.7,834.8 L710.2,837.0 L711.7,839.2 L713.2,841.4 L714.7,843.5 L716.2,845.6 L717.7,847.7 L719.2,849.7 L720.7,851.7 L722.2,853.7 L723.7,855.7 L725.2,857.6 L726.7,859.5 L728.2,861.4 L729.7,863.2 L731.2,865.0 L732.7,866.8 L734.2,868.6 L735.7,870.3 L737.2,872.0 L738.7,873.7 L740.2,875.4 L741.7,877.0 L743.2,878.6 L744.7,880.2 L746.2,881.8 L747.7,883.4 L749.2,884.9 L750.7,886.4 L752.2,887.9 L753.7,889.4 L755.2,890.9 L756.7,892.3 L758.2,893.7 L759.7,895.1 L761.2,896.5 L762.7,897.9 L764.2,899.2 L765.7,900.5 L767.2,901.9 L768.7,903.2 L770.2,904.4 L771.7,905.7 L773.2,906.9 L774.7,908.2 L776.2,909.4 L777.7,910.6 L779.2,911.8 L780.7,912.9 L782.2,914.1 L783.7,915.2 L785.2,916.4 L786.7,917.5 L788.2,918.6 L789.7,919.6 L791.2,920.7 L792.7,921.8 L794.2,922.8 L795.7,923.8 L797.2,924.8 L798.7,925.8 L800.2,926.8 L801.7,927.8 L803.2,928.7 L804.7,929.7 L806.2,930.6 L807.7,931.5 L809.2,932.4 L810.7,933.3 L812.2,934.2 L813.7,935.0 L815.2,935.9 L816.7,936.7 L818.2,937.6 L819.7,938.4 L821.2,939.2 L822.7,940.0 L824.2,940.8 L825.7,941.5 L827.2,942.3 L828.7,943.0 L830.2,943.8 L831.7,944.5 L833.2,945.2 L834.7,945.9 L836.2,946.6 L837.7,947.2 L839.2,947.9 L840.7,948.5 L842.2,949.2 L843.7,949.8 L845.2,950.4 L846.7,951.0 L848.2,951.6 L849.7,952.2 L851.2,952.8 L852.7,953.4 L854.2,954.0 L855.7,954.5 L857.2,955.1 L858.7,955.6 L860.2,956.1 L861.7,956.6 L863.2,957.2 L864.7,957.7 L866.2,958.2 L867.7,958.7 L869.2,959.1 L870.7,959.6 L872.2,960.1 L873.7,960.6 L875.2,961.0 L876.7,961.5 L878.2,961.9 L879.7,962.3 L881.2,962.8 L882.7,963.2 L884.2,963.6 L885.7,964.0 L887.2,964.4 L888.7,964.9 L890.2,965.3 L891.7,965.6 L893.2,965.9 L894.7,966.5 L896.2,966.8 L897.7,967.0 L899.2,967.7 L900.7,967.8 L902.2,968.4 L903.7,968.3 L905.2,968.7 L906.7,969.2 L908.2,969.5 L909.7,970.2 L911.2,969.9 L912.7,970.7 L914.2,970.7 L915.7,971.4 L917.2,971.7 L918.7,971.8 L920.2,972.9 L921.7,972.5 L923.2,973.2 L924.7,972.7 L926.2,973.4 L927.7,973.8 L929.2,974.1 L930.7,974.2 L932.2,974.3 L933.7,973.7 L935.2,975.0 L936.7,975.1 L938.2,975.7 L939.7,976.5 L941.2,977.4 L942.7,976.9 L944.2,977.4 L945.7,977.5 L947.2,977.8 L948.7,978.0 L950.2,977.8 L951.7,978.0 L953.2,978.7 L954.7,979.7 L956.2,979.4 L957.7,980.2 L959.2,978.7 L960.7,979.9 L962.2,980.2 L963.7,980.6 L965.2,979.6 L966.7,979.5 L968.2,979.5 L969.7,980.9 L971.2,983.0 L972.7,981.8 L974.2,981.0 L975.7,982.4 L977.2,982.1 L978.7,982.7 L980.2,982.4 L981.7,982.0 L983.2,982.8 L984.7,984.0 L986.2,983.9 L987.7,984.9 L989.2,983.2 L990.7,985.2 L992.2,984.6 L993.7,984.9 L995.2,986.0 L996.7,985.0 L998.2,985.6 L999.7,986.1 L1001.2,986.4 L1002.7,986.7 L1004.2,987.4 L1005.7,986.9 L1007.2,986.2 L1008.7,989.1 L1010.2,987.0 L1011.7,987.6 L1013.2,986.6 L1014.7,985.4 L1016.2,987.0 L1017.7,988.0 L1019.2,988.7 L1020.7,988.4 L1022.2,989.4 L1023.7,989.8 L1025.2,990.0 L1026.7,989.1 L1028.2,989.4 L1029.7,989.2 L1031.2,988.7 L1032.7,991.5 L1034.2,988.6 L1035.7,990.1 L1037.2,990.7 L1038.7,988.0 L1040.2,991.7 L1041.7,990.5 L1043.2,991.4 L1044.7,990.9 L1046.2,989.6 L1047.7,991.9 L1049.2,992.0 L1050.7,993.3 L1052.2,992.9 L1053.7,990.2 L1055.2,994.1 L1056.7,993.8 L1058.2,994.0 L1059.7,993.8 L1061.2,992.4 L1062.7,994.2 L1064.2,993.2 L1065.7,997.9 L1067.2,993.7 L1068.7,992.6 L1070.2,993.8 L1071.7,996.6 L1073.2,993.8 L1074.7,991.2 L1076.2,997.1 L1077.7,995.6 L1079.2,994.5 L1080.7,996.4 L1082.2,994.1 L1083.7,993.8 L1085.2,997.2 L1086.7,995.0 L1088.2,996.7 L1089.7,996.0 L1091.2,997.4 L1092.7,996.3 L1094.2,992.9 L1095.7,997.4 L1097.2,995.6 L1098.7,997.8 L1100.2,996.6 L1101.7,998.8 L1103.2,995.9 L1104.7,993.0 L1106.2,995.9 L1107.7,997.3 L1109.2,995.8 L1110.7,995.5 L1112.2,998.8 L1113.7,995.9 L1115.2,998.0 L1116.7,996.3 L1118.2,993.3 L1119.7,994.1 L1121.2,995.1 L1122.7,996.1 L1124.2,993.9 L1125.7,992.6 L1127.2,993.1 L1128.7,993.8 L1130.2,992.9 L1131.7,993.2 L1133.2,997.5 L1134.7,994.3 L1136.2,991.8 L1137.7,993.1 L1139.2,995.8 L1140.7,993.7 L1142.2,991.8 L1143.7,988.9 L1145.2,987.8 L1146.7,990.1 L1148.2,990.1 L1149.7,986.5 L1151.2,986.6 L1152.7,988.7 L1154.2,983.6 L1155.7,984.1 L1157.2,987.0 L1158.7,987.7 L1160.2,986.6 L1161.7,987.4 L1163.2,988.1 L1164.7,986.1 L1166.2,982.9 L1167.7,987.6 L1169.2,986.1 L1170.7,983.9 L1172.2,979.3 L1173.7,981.6 L1175.2,975.3 L1176.7,978.8 L1178.2,973.3 L1179.7,977.7 L1181.2,980.7 L1182.7,977.9 L1184.2,981.3 L1185.7,977.1 L1187.2,977.1 L1188.7,975.9 L1190.2,977.7 L1191.7,976.1 L1193.2,979.1 L1194.7,980.0 L1196.2,976.8 L1197.7,973.0 L1199.2,977.3 L1200.7,979.3 L1202.2,977.6 L1203.7,976.7 L1205.2,978.5 L1206.7,979.6 L1208.2,969.3 L1209.7,980.4 L1211.2,978.6 L1212.7,977.9 L1214.2,975.3 L1215.7,977.6 L1217.2,978.9 L1218.7,973.3 L1220.2,979.7 L1221.7,978.0 L1223.2,982.1 L1224.7,980.1 L1226.2,977.9 L1227.7,978.8 L1229.2,980.7 L1230.7,979.5 L1232.2,980.9 L1233.7,977.4 L1235.2,976.0 L1236.7,978.2 L1238.2,975.8 L1239.7,977.9 L1241.2,981.4 L1242.7,975.5 L1244.2,976.9 L1245.7,983.0 L1247.2,979.2 L1248.7,980.8 L1250.2,977.1 L1251.7,977.7 L1253.2,980.0 L1254.7,986.1 L1256.2,982.3 L1257.7,975.5 L1259.2,982.2 L1260.7,983.6 L1262.2,982.8 L1263.7,976.5 L1265.2,980.2 L1266.7,987.4 L1268.2,977.3 L1269.7,981.6 L1271.2,978.1 L1272.7,976.5 L1274.2,979.5 L1275.7,984.7 L1277.2,985.6 L1278.7,979.1 L1280.2,981.1 L1281.7,980.4 L1283.2,977.1 L1284.7,987.1 L1286.2,991.2 L1287.7,991.9 L1289.2,985.8 L1290.7,992.8 L1292.2,992.7 L1293.7,988.4 L1295.2,990.1 L1296.7,989.3 L1298.2,991.8 L1299.7,997.7 L1301.2,988.4 L1302.7,987.7 L1304.2,995.2 L1305.7,992.5 L1307.2,985.8 L1308.7,989.0 L1310.2,989.8 L1311.7,990.7 L1313.2,994.1 L1314.7,996.6 L1316.2,992.6 L1317.7,993.8 L1319.2,990.7 L1320.7,997.1 L1322.2,998.4 L1323.7,992.7 L1325.2,991.0 L1326.7,1001.2 L1328.2,997.1 L1329.7,990.6 L1331.2,987.7 L1332.7,992.7 L1334.2,998.0 L1335.7,991.6 L1337.2,992.5 L1338.7,991.4 L1340.2,995.3 L1341.7,997.7 L1343.2,987.7 L1344.7,990.8 L1346.2,990.6 L1347.7,988.4 L1349.2,985.6 L1350.7,992.1 L1352.2,988.7 L1353.7,989.7 L1355.2,991.5 L1356.7,983.3 L1358.2,985.3 L1359.7,980.4 L1361.2,980.2 L1362.7,980.5 L1364.2,977.4 L1365.7,971.3 L1367.2,981.5 L1368.7,975.5 L1370.2,969.9 L1371.7,965.3 L1373.2,972.9 L1374.7,975.0 L1376.2,976.0 L1377.7,976.1 L1379.2,970.3 L1380.7,973.9 L1382.2,965.5 L1383.7,971.8 L1385.2,974.6 L1386.7,968.8 L1388.2,970.4 L1389.7,971.4 L1391.2,971.5 L1392.7,976.6 L1394.2,966.8 L1395.7,976.0 L1397.2,966.1 L1398.7,968.2 L1400.2,967.7 L1401.7,970.3 L1403.2,968.7 L1404.7,972.3 L1406.2,970.4 L1407.7,978.8 L1409.2,971.6 L1410.7,969.0 L1412.2,971.3 L1413.7,972.1 L1415.2,968.9 L1416.7,965.1 L1418.2,966.1 L1419.7,969.8 L1421.2,972.2 L1422.7,970.6 L1424.2,968.2 L1425.7,970.5 L1427.2,966.2 L1428.7,968.9 L1430.2,973.3 L1431.7,971.8 L1433.2,972.5 L1434.7,965.5 L1436.2,967.5 L1437.7,962.4 L1439.2,969.8 L1440.7,964.2 L1442.2,960.4 L1443.7,963.4 L1445.2,966.1 L1446.7,956.0 L1448.2,958.8 L1449.7,968.1 L1451.2,964.3 L1452.7,963.4 L1454.2,956.8 L1455.7,969.3 L1457.2,966.7 L1458.7,965.1 L1460.2,957.5 L1461.7,963.9 L1463.2,965.9 L1464.7,959.6 L1466.2,959.6 L1467.7,958.4 L1469.2,962.3 L1470.7,958.6 L1472.2,957.9 L1473.7,953.0 L1475.2,951.9 L1476.7,961.9 L1478.2,964.1 L1479.7,960.9 L1481.2,962.8 L1482.7,954.6 L1484.2,956.2 L1485.7,957.5 L1487.2,955.0 L1488.7,962.0 L1490.2,949.6 L1491.7,952.3 L1493.2,952.8 L1494.7,951.0 L1496.2,956.9 L1497.7,945.1 L1499.0,957.4"/><path id="c5" d="M438.5,934.0 L440.5,925.9 L442.5,917.5 L444.5,908.9 L446.5,900.0 L448.5,890.7 L450.5,881.2 L452.5,871.3 L454.5,861.1 L456.5,850.6 L458.5,839.6 L460.5,828.3 L462.5,816.6 L464.5,804.5 L466.5,792.1 L468.5,779.2 L470.5,766.0 L472.5,752.5 L474.5,738.7 L476.5,724.7 L478.5,710.5 L480.5,696.2 L482.5,681.9 L484.5,667.5 L486.5,653.3 L488.5,639.2 L490.5,625.3 L492.5,611.6 L494.5,598.1 L496.5,585.0 L498.5,572.2 L500.5,559.6 L502.5,547.2 L504.5,535.0 L506.5,522.9 L508.5,510.8 L510.5,498.7 L512.5,486.6 L514.5,475.7 L516.5,468.5 L518.5,463.5 L520.5,459.7 L522.5,456.7 L524.5,454.3 L526.5,452.5 L528.5,451.5 L530.5,450.9 L532.5,450.7 L534.5,451.0 L536.5,452.0 L538.5,454.7 L540.5,460.8 L542.5,467.8 L544.5,475.1 L546.5,482.7 L548.5,490.6 L550.5,498.9 L552.5,507.6 L554.5,516.7 L556.5,526.1 L558.5,535.9 L560.5,546.1 L562.5,556.7 L564.5,567.7 L566.5,578.9 L568.5,590.3 L570.5,601.9 L572.5,613.6 L574.5,625.2 L576.5,636.9 L578.5,648.6 L580.5,660.3 L582.5,672.0 L584.5,683.6 L586.5,695.2 L588.5,706.7 L590.5,718.2 L592.5,729.6 L594.5,740.9 L596.5,752.1 L598.5,763.2 L600.5,774.2 L602.5,785.1 L604.5,795.9 L606.5,806.5 L608.5,817.0 L610.5,827.4 L612.5,837.7 L614.5,847.8 L616.5,857.8 L618.5,867.7 L620.5,877.4 L622.5,887.0 L624.5,896.4 L626.5,905.8 L628.5,915.0 L630.5,924.0 L632.5,932.9 L634.5,941.4 L636.5,949.6 L638.5,957.4 L640.5,964.8 L642.5,971.8 L644.5,978.3 L646.5,984.5 L648.5,990.4 L650.5,995.9 L652.5,1001.1 L654.5,1006.0 L656.5,1010.7 L658.5,1015.1 L660.5,1019.3 L662.5,1023.3 L664.5,1027.1 L666.5,1030.7 L668.5,1034.1 L670.5,1037.4 L672.5,1040.6 L674.5,1043.6 L676.5,1046.5 L678.5,1049.3 L680.5,1051.9 L682.5,1054.5 L684.5,1056.9 L686.5,1059.3 L688.5,1061.6 L690.5,1063.8 L692.5,1066.0 L694.5,1068.0 L696.5,1070.0 L698.5,1072.0 L700.5,1073.9 L702.5,1075.7 L704.5,1077.5 L706.5,1079.3 L708.5,1081.0 L710.5,1082.6 L712.5,1084.3 L714.5,1085.8 L716.5,1087.4 L718.5,1088.9 L720.5,1090.3 L722.5,1091.7 L724.5,1093.1 L726.5,1094.5 L728.5,1095.8 L730.5,1097.1 L732.5,1098.3 L734.5,1099.6 L736.5,1100.8 L738.5,1101.9 L740.5,1103.1 L742.5,1104.2 L744.5,1105.2 L746.5,1106.3 L748.5,1107.3 L750.5,1108.3 L752.5,1109.3 L754.5,1110.3 L756.5,1111.2 L758.5,1112.1 L760.5,1113.0 L762.5,1113.8 L764.5,1114.6 L766.5,1115.4 L768.5,1116.2 L770.5,1117.0 L772.5,1117.7 L774.5,1118.4 L776.5,1119.1 L778.5,1119.8 L780.5,1120.4 L782.5,1121.1 L784.5,1121.7 L786.5,1122.3 L788.5,1122.9 L790.5,1123.4 L792.5,1124.0 L794.5,1124.5 L796.5,1125.0 L798.5,1125.5 L800.5,1126.0 L802.5,1126.5 L804.5,1126.9 L806.5,1127.4 L808.5,1127.8 L810.5,1128.2 L812.5,1128.6 L814.5,1129.0 L816.5,1129.4 L818.5,1129.7 L820.5,1130.1 L822.5,1130.4 L824.5,1130.7 L826.5,1131.1 L828.5,1131.4 L830.5,1131.7 L832.5,1132.0 L834.5,1132.2 L836.5,1132.5 L838.5,1132.8 L840.5,1133.0 L842.5,1133.3 L844.5,1133.5 L846.5,1133.7 L848.5,1134.0 L850.5,1134.2 L852.5,1134.4 L854.5,1134.6 L856.5,1134.8 L858.5,1135.0 L860.5,1135.2 L862.5,1135.3 L864.5,1135.5 L866.5,1135.7 L868.5,1135.8 L870.5,1136.0 L872.5,1136.2 L874.5,1136.3 L876.5,1136.5 L878.5,1136.6 L880.5,1136.8 L882.5,1136.9 L884.5,1137.0 L886.5,1137.2 L888.5,1137.3 L890.5,1137.4 L892.5,1137.6 L894.5,1137.7 L896.5,1137.8 L898.5,1138.0 L900.5,1138.1 L902.5,1138.2 L904.5,1138.3 L906.5,1138.4 L908.5,1138.6 L910.5,1138.7 L912.5,1138.8 L914.5,1138.9 L916.5,1139.0 L918.5,1139.2 L920.5,1139.3 L922.5,1139.4 L924.5,1139.4 L926.5,1139.6 L928.5,1139.6 L930.5,1139.8 L932.5,1140.0 L934.5,1140.1 L936.5,1140.0 L938.5,1140.1 L940.5,1140.2 L942.5,1140.4 L944.5,1140.5 L946.5,1140.6 L948.5,1140.7 L950.5,1140.6 L952.5,1140.6 L954.5,1141.0 L956.5,1140.9 L958.5,1141.3 L960.5,1140.9 L962.5,1141.1 L964.5,1141.2 L966.5,1141.4 L968.5,1141.5 L970.5,1141.4 L972.5,1141.7 L974.5,1141.5 L976.5,1141.7 L978.5,1141.6 L980.5,1141.8 L982.5,1141.8 L984.5,1142.1 L986.5,1142.7 L988.5,1141.9 L990.5,1142.2 L992.5,1142.4 L994.5,1142.3 L996.5,1142.7 L998.5,1142.2 L1000.5,1142.6 L1002.5,1142.4 L1004.5,1142.8 L1006.5,1142.7 L1008.5,1142.8 L1010.5,1142.6 L1012.5,1142.4 L1014.5,1142.6 L1016.5,1143.1 L1018.5,1142.9 L1020.5,1143.2 L1022.5,1142.7 L1024.5,1143.3 L1026.5,1143.4 L1028.5,1142.6 L1030.5,1143.3 L1032.5,1143.8 L1034.5,1143.1 L1036.5,1143.6 L1038.5,1143.4 L1040.5,1143.7 L1042.5,1143.4 L1044.5,1143.3 L1046.5,1143.4 L1048.5,1143.5 L1050.5,1143.4 L1052.5,1143.4 L1054.5,1144.0 L1056.5,1143.5 L1058.5,1143.4 L1060.5,1143.5 L1062.5,1144.0 L1064.5,1143.1 L1066.5,1144.0 L1068.5,1144.1 L1070.5,1144.3 L1072.5,1143.8 L1074.5,1143.7 L1076.5,1144.0 L1078.5,1144.1 L1080.5,1144.5 L1082.5,1144.1 L1084.5,1143.9 L1086.5,1143.6 L1088.5,1144.1 L1090.5,1144.2 L1092.5,1144.6 L1094.5,1144.2 L1096.5,1144.7 L1098.5,1144.7 L1100.5,1143.9 L1102.5,1143.8 L1104.5,1144.0 L1106.5,1144.2 L1108.5,1144.0 L1110.5,1144.6 L1112.5,1144.6 L1114.5,1144.9 L1116.5,1144.5 L1118.5,1144.2 L1120.5,1144.6 L1122.5,1144.0 L1124.5,1144.5 L1126.5,1144.1 L1128.5,1145.0 L1130.5,1143.3 L1132.5,1144.9 L1134.5,1144.9 L1136.5,1144.5 L1138.5,1144.7 L1140.5,1144.6 L1142.5,1145.2 L1144.5,1145.4 L1146.5,1144.6 L1148.5,1145.4 L1150.5,1144.3 L1152.5,1144.8 L1154.5,1144.8 L1156.5,1143.9 L1158.5,1144.8 L1160.5,1144.3 L1162.5,1145.0 L1164.5,1144.1 L1166.5,1143.7 L1168.5,1143.9 L1170.5,1144.6 L1172.5,1144.8 L1174.5,1144.8 L1176.5,1144.2 L1178.5,1145.1 L1180.5,1144.3 L1182.5,1144.5 L1184.5,1145.2 L1186.5,1144.5 L1188.5,1143.6 L1190.5,1145.0 L1192.5,1144.6 L1194.5,1144.4 L1196.5,1145.4 L1198.5,1144.3 L1200.5,1145.0 L1202.5,1144.7 L1204.5,1146.2 L1206.5,1143.5 L1208.5,1144.7 L1210.5,1144.8 L1212.5,1145.3 L1214.5,1144.3 L1216.5,1144.2 L1218.5,1145.4 L1220.5,1144.3 L1222.5,1144.7 L1224.5,1144.5 L1226.5,1144.8 L1228.5,1143.7 L1230.5,1144.2 L1232.5,1144.5 L1234.5,1144.6 L1236.5,1145.2 L1238.5,1144.8 L1240.5,1144.8 L1242.5,1144.4 L1244.5,1145.2 L1246.5,1144.1 L1248.5,1144.4 L1250.5,1143.5 L1252.5,1143.8 L1254.5,1144.9 L1256.5,1144.4 L1258.5,1143.3 L1260.5,1144.3 L1262.5,1144.2 L1264.5,1143.7 L1266.5,1144.5 L1268.5,1144.1 L1270.5,1144.3 L1272.5,1144.8 L1274.5,1143.9 L1276.5,1144.9 L1278.5,1144.1 L1280.5,1144.0 L1282.5,1145.0 L1284.5,1144.4 L1286.5,1143.9 L1288.5,1144.1 L1290.5,1144.2 L1292.5,1143.2 L1294.5,1144.5 L1296.5,1144.0 L1298.5,1143.3 L1300.5,1143.4 L1302.5,1144.5 L1304.5,1143.2 L1306.5,1145.2 L1308.5,1143.3 L1310.5,1144.0 L1312.5,1142.3 L1314.5,1143.8 L1316.5,1143.5 L1318.5,1144.1 L1320.5,1143.9 L1322.5,1143.6 L1324.5,1145.0 L1326.5,1144.2 L1328.5,1143.2 L1330.5,1143.9 L1332.5,1141.9 L1334.5,1143.3 L1336.5,1144.3 L1338.5,1143.2 L1340.5,1143.6 L1342.5,1142.8 L1344.5,1143.9 L1346.5,1143.5 L1348.5,1143.4 L1350.5,1143.9 L1352.5,1144.3 L1354.5,1143.8 L1356.5,1142.3 L1358.5,1143.5 L1360.5,1143.4 L1362.5,1142.5 L1364.5,1142.2 L1366.5,1142.9 L1368.5,1142.9 L1370.5,1143.0 L1372.5,1142.6 L1374.5,1143.1 L1376.5,1143.2 L1378.5,1142.8 L1380.5,1143.2 L1382.5,1142.5 L1384.5,1141.9 L1386.5,1142.8 L1388.5,1143.3 L1390.5,1144.4 L1392.5,1141.5 L1394.5,1142.4 L1396.5,1142.1 L1398.5,1142.8 L1400.5,1142.1 L1402.5,1142.6 L1404.5,1143.1 L1406.5,1142.0 L1408.5,1142.4 L1410.5,1143.4 L1412.5,1142.9 L1414.5,1141.4 L1416.5,1143.6 L1418.5,1141.9 L1420.5,1142.4 L1422.5,1142.0 L1424.5,1141.9 L1426.5,1141.7 L1428.5,1142.5 L1430.5,1141.6 L1432.5,1141.3 L1434.5,1141.6 L1436.5,1141.9 L1438.5,1140.7 L1440.5,1142.3 L1442.5,1141.4 L1444.5,1142.2 L1446.5,1142.6 L1448.5,1141.9 L1450.5,1142.0 L1452.5,1141.4 L1454.5,1141.2 L1456.5,1140.4 L1458.5,1141.4 L1460.5,1141.2 L1462.5,1140.0 L1464.5,1141.6 L1466.5,1142.3 L1468.5,1141.6 L1470.5,1142.0 L1472.5,1141.1 L1474.5,1140.6 L1476.5,1141.2 L1478.5,1140.9 L1480.5,1140.4 L1482.5,1141.6 L1484.5,1141.1 L1486.5,1140.6 L1488.5,1141.0 L1490.5,1140.8 L1492.5,1141.2 L1494.5,1141.7 L1496.5,1140.4 L1498.5,1140.0 L1499.0,1141.5"/><path id="c6" d="M437.8,869.5 L439.8,868.4 L441.8,867.2 L443.8,866.0 L445.8,864.7 L447.8,863.3 L449.8,861.8 L451.8,860.2 L453.8,858.5 L455.8,856.7 L457.8,854.8 L459.8,852.7 L461.8,850.6 L463.8,848.3 L465.8,846.0 L467.8,843.4 L469.8,840.8 L471.8,838.0 L473.8,835.1 L475.8,832.0 L477.8,828.8 L479.8,825.4 L481.8,822.0 L483.8,818.4 L485.8,814.8 L487.8,811.1 L489.8,807.3 L491.8,803.4 L493.8,799.5 L495.8,795.5 L497.8,791.5 L499.8,787.5 L501.8,783.4 L503.8,779.3 L505.8,775.2 L507.8,771.1 L509.8,767.0 L511.8,762.9 L513.8,758.8 L515.8,754.8 L517.8,750.7 L519.8,746.8 L521.8,742.8 L523.8,739.0 L525.8,735.1 L527.8,731.4 L529.8,727.7 L531.8,724.1 L533.8,720.5 L535.8,716.9 L537.8,713.4 L539.8,709.9 L541.8,706.4 L543.8,702.9 L545.8,699.5 L547.8,696.0 L549.8,692.5 L551.8,689.1 L553.8,685.6 L555.8,682.1 L557.8,678.5 L559.8,675.0 L561.8,671.5 L563.8,668.0 L565.8,664.5 L567.8,661.0 L569.8,657.5 L571.8,654.0 L573.8,650.5 L575.8,647.1 L577.8,643.7 L579.8,640.3 L581.8,637.0 L583.8,633.7 L585.8,630.4 L587.8,627.2 L589.8,624.1 L591.8,621.0 L593.8,618.0 L595.8,615.0 L597.8,612.1 L599.8,609.2 L601.8,606.5 L603.8,603.8 L605.8,601.2 L607.8,598.6 L609.8,596.1 L611.8,593.7 L613.8,591.4 L615.8,589.1 L617.8,586.9 L619.8,584.8 L621.8,582.8 L623.8,580.8 L625.8,578.9 L627.8,577.0 L629.8,575.2 L631.8,573.5 L633.8,571.8 L635.8,570.2 L637.8,568.7 L639.8,567.2 L641.8,565.8 L643.8,564.4 L645.8,563.0 L647.8,561.8 L649.8,560.5 L651.8,559.3 L653.8,558.2 L655.8,557.1 L657.8,556.0 L659.8,555.0 L661.8,554.0 L663.8,553.0 L665.8,552.1 L667.8,551.2 L669.8,550.4 L671.8,549.5 L673.8,548.8 L675.8,548.0 L677.8,547.3 L679.8,546.6 L681.8,546.0 L683.8,545.3 L685.8,544.7 L687.8,544.2 L689.8,543.6 L691.8,543.1 L693.8,542.7 L695.8,542.2 L697.8,541.8 L699.8,541.4 L701.8,541.0 L703.8,540.7 L705.8,540.3 L707.8,540.0 L709.8,539.8 L711.8,539.5 L713.8,539.3 L715.8,539.0 L717.8,538.8 L719.8,538.6 L721.8,538.5 L723.8,538.3 L725.8,538.2 L727.8,538.0 L729.8,537.9 L731.8,537.8 L733.8,537.7 L735.8,537.6 L737.8,537.6 L739.8,537.5 L741.8,537.5 L743.8,537.4 L745.8,537.4 L747.8,537.4 L749.8,537.4 L751.8,537.4 L753.8,537.3 L755.8,537.3 L757.8,537.4 L759.8,537.4 L761.8,537.4 L763.8,537.4 L765.8,537.4 L767.8,537.4 L769.8,537.5 L771.8,537.5 L773.8,537.5 L775.8,537.5 L777.8,537.5 L779.8,537.5 L781.8,537.6 L783.8,537.6 L785.8,537.6 L787.8,537.6 L789.8,537.6 L791.8,537.6 L793.8,537.6 L795.8,537.5 L797.8,537.5 L799.8,537.5 L801.8,537.4 L803.8,537.4 L805.8,537.3 L807.8,537.3 L809.8,537.2 L811.8,537.1 L813.8,537.0 L815.8,536.8 L817.8,536.7 L819.8,536.6 L821.8,536.4 L823.8,536.2 L825.8,536.0 L827.8,535.8 L829.8,535.6 L831.8,535.4 L833.8,535.1 L835.8,534.9 L837.8,534.6 L839.8,534.3 L841.8,534.0 L843.8,533.7 L845.8,533.3 L847.8,532.9 L849.8,532.6 L851.8,532.2 L853.8,531.7 L855.8,531.3 L857.8,530.9 L859.8,530.4 L861.8,529.9 L863.8,529.4 L865.8,528.8 L867.8,528.3 L869.8,527.7 L871.8,527.1 L873.8,526.5 L875.8,525.9 L877.8,525.3 L879.8,524.6 L881.8,524.0 L883.8,523.3 L885.8,522.6 L887.8,521.9 L889.8,521.2 L891.8,520.5 L893.8,519.7 L895.8,519.0 L897.8,518.2 L899.8,517.4 L901.8,516.6 L903.8,515.8 L905.8,515.0 L907.8,514.2 L909.8,513.4 L911.8,512.6 L913.8,511.8 L915.8,510.9 L917.8,510.1 L919.8,509.2 L921.8,508.4 L923.8,507.6 L925.8,506.7 L927.8,505.9 L929.8,504.9 L931.8,504.1 L933.8,503.2 L935.8,502.4 L937.8,501.5 L939.8,500.7 L941.8,499.9 L943.8,499.1 L945.8,498.3 L947.8,497.3 L949.8,496.6 L951.8,495.7 L953.8,494.7 L955.8,493.9 L957.8,493.1 L959.8,492.5 L961.8,491.5 L963.8,490.7 L965.8,490.1 L967.8,489.2 L969.8,488.4 L971.8,487.7 L973.8,486.9 L975.8,485.9 L977.8,485.3 L979.8,484.8 L981.8,483.8 L983.8,483.5 L985.8,482.6 L987.8,482.0 L989.8,481.4 L991.8,480.4 L993.8,479.9 L995.8,479.2 L997.8,478.8 L999.8,478.4 L1001.8,477.5 L1003.8,476.9 L1005.8,476.0 L1007.8,475.7 L1009.8,475.1 L1011.8,474.6 L1013.8,474.1 L1015.8,473.8 L1017.8,472.9 L1019.8,472.5 L1021.8,471.6 L1023.8,471.5 L1025.8,470.9 L1027.8,470.0 L1029.8,469.9 L1031.8,469.2 L1033.8,469.1 L1035.8,468.5 L1037.8,468.0 L1039.8,467.9 L1041.8,467.0 L1043.8,466.5 L1045.8,466.2 L1047.8,465.8 L1049.8,465.1 L1051.8,465.1 L1053.8,464.6 L1055.8,464.0 L1057.8,463.3 L1059.8,463.6 L1061.8,463.3 L1063.8,462.8 L1065.8,462.5 L1067.8,462.4 L1069.8,461.6 L1071.8,461.6 L1073.8,460.8 L1075.8,460.2 L1077.8,460.2 L1079.8,459.8 L1081.8,459.7 L1083.8,459.8 L1085.8,459.1 L1087.8,459.0 L1089.8,459.0 L1091.8,458.6 L1093.8,457.8 L1095.8,457.3 L1097.8,457.9 L1099.8,456.6 L1101.8,456.1 L1103.8,455.8 L1105.8,456.6 L1107.8,455.5 L1109.8,455.6 L1111.8,455.4 L1113.8,455.7 L1115.8,454.5 L1117.8,454.8 L1119.8,454.7 L1121.8,454.9 L1123.8,454.1 L1125.8,454.1 L1127.8,453.7 L1129.8,454.0 L1131.8,453.7 L1133.8,453.0 L1135.8,453.2 L1137.8,452.2 L1139.8,452.7 L1141.8,452.1 L1143.8,452.1 L1145.8,452.6 L1147.8,452.9 L1149.8,451.9 L1151.8,451.6 L1153.8,451.4 L1155.8,451.7 L1157.8,451.2 L1159.8,451.6 L1161.8,451.8 L1163.8,451.3 L1165.8,450.7 L1167.8,451.2 L1169.8,450.5 L1171.8,449.9 L1173.8,451.2 L1175.8,451.5 L1177.8,451.2 L1179.8,450.4 L1181.8,449.0 L1183.8,450.3 L1185.8,451.0 L1187.8,450.5 L1189.8,451.4 L1191.8,450.5 L1193.8,451.2 L1195.8,451.2 L1197.8,451.3 L1199.8,450.6 L1201.8,451.4 L1203.8,451.8 L1205.8,451.6 L1207.8,451.4 L1209.8,452.0 L1211.8,452.0 L1213.8,452.9 L1215.8,453.5 L1217.8,453.5 L1219.8,453.8 L1221.8,453.9 L1223.8,454.4 L1225.8,453.7 L1227.8,455.2 L1229.8,456.0 L1231.8,455.7 L1233.8,456.8 L1235.8,456.2 L1237.8,457.5 L1239.8,457.9 L1241.8,458.8 L1243.8,459.2 L1245.8,460.9 L1247.8,458.8 L1249.8,460.4 L1251.8,461.5 L1253.8,462.6 L1255.8,463.0 L1257.8,463.8 L1259.8,464.1 L1261.8,465.1 L1263.8,466.2 L1265.8,468.4 L1267.8,468.1 L1269.8,470.9 L1271.8,471.0 L1273.8,471.4 L1275.8,473.0 L1277.8,474.2 L1279.8,474.2 L1281.8,475.2 L1283.8,477.9 L1285.8,477.9 L1287.8,480.1 L1289.8,481.3 L1291.8,481.4 L1293.8,484.0 L1295.8,485.3 L1297.8,487.1 L1299.8,487.9 L1301.8,489.6 L1303.8,491.1 L1305.8,492.3 L1307.8,494.8 L1309.8,496.1 L1311.8,498.0 L1313.8,499.1 L1315.8,501.2 L1317.8,501.9 L1319.8,503.8 L1321.8,506.4 L1323.8,507.7 L1325.8,509.5 L1327.8,511.6 L1329.8,512.7 L1331.8,515.5 L1333.8,517.7 L1335.8,519.3 L1337.8,521.0 L1339.8,524.5 L1341.8,526.0 L1343.8,527.4 L1345.8,529.8 L1347.8,531.5 L1349.8,533.7 L1351.8,535.9 L1353.8,538.7 L1355.8,541.7 L1357.8,544.2 L1359.8,546.1 L1361.8,549.1 L1363.8,551.3 L1365.8,552.9 L1367.8,555.5 L1369.8,558.6 L1371.8,561.4 L1373.8,564.1 L1375.8,565.5 L1377.8,567.8 L1379.8,572.4 L1381.8,573.8 L1383.8,577.1 L1385.8,579.3 L1387.8,581.3 L1389.8,585.4 L1391.8,587.6 L1393.8,590.9 L1395.8,593.2 L1397.8,595.1 L1399.8,598.3 L1401.8,601.6 L1403.8,603.6 L1405.8,606.8 L1407.8,610.1 L1409.8,611.7 L1411.8,615.0 L1413.8,618.1 L1415.8,621.4 L1417.8,623.7 L1419.8,626.3 L1421.8,629.9 L1423.8,632.2 L1425.8,635.6 L1427.8,638.6 L1429.8,641.2 L1431.8,644.7 L1433.8,647.9 L1435.8,649.6 L1437.8,653.6 L1439.8,656.3 L1441.8,659.2 L1443.8,662.5 L1445.8,666.1 L1447.8,668.5 L1449.8,671.5 L1451.8,674.1 L1453.8,677.8 L1455.8,681.0 L1457.8,683.7 L1459.8,687.2 L1461.8,690.7 L1463.8,694.4 L1465.8,696.7 L1467.8,701.1 L1469.8,703.8 L1471.8,706.9 L1473.8,710.0 L1475.8,713.0 L1477.8,715.9 L1479.8,719.5 L1481.8,722.8 L1483.8,726.2 L1485.8,730.2 L1487.8,733.7 L1489.8,736.3 L1491.8,739.9 L1493.8,742.3 L1495.8,745.0 L1497.8,749.3 L1499.0,751.5"/></defs>
<rect width="1740" height="1390" fill="#ffffff"/>
<g filter="url(#soft)">
<g stroke="#2a2a2a" stroke-width="3" fill="none">
<line x1="225.5" y1="1169.9" x2="247.0" y2="1169.9" stroke="#6a6a6a" stroke-width="5"/>
<line x1="235" y1="1098.5" x2="247.0" y2="1098.5"/>
<line x1="225.5" y1="1026.5" x2="247.0" y2="1026.5"/>
<line x1="235" y1="954.5" x2="247.0" y2="954.5"/>
<line x1="225.5" y1="882.5" x2="247.0" y2="882.5"/>
<line x1="235" y1="810.5" x2="247.0" y2="810.5"/>
<line x1="225.5" y1="738.5" x2="247.0" y2="738.5"/>
<line x1="235" y1="666.5" x2="247.0" y2="666.5"/>
<line x1="225.5" y1="594.5" x2="247.0" y2="594.5"/>
<line x1="235" y1="522.5" x2="247.0" y2="522.5"/>
<line x1="225.5" y1="450.5" x2="247.0" y2="450.5"/>
<line x1="235" y1="378.5" x2="247.0" y2="378.5"/>
<line x1="225.5" y1="306.5" x2="247.0" y2="306.5"/>
<line x1="235" y1="234.5" x2="247.0" y2="234.5"/>
<line x1="225.5" y1="162.5" x2="247.0" y2="162.5"/>
<line x1="247.0" y1="1176.3" x2="247.0" y2="1188" stroke="#707070" stroke-width="4.6"/>
<line x1="342.0" y1="1176.3" x2="342.0" y2="1196.5" stroke="#707070" stroke-width="4.6"/>
<line x1="438.4" y1="1176.3" x2="438.4" y2="1188" stroke="#707070" stroke-width="4.6"/>
<line x1="534.8" y1="1176.3" x2="534.8" y2="1196.5" stroke="#707070" stroke-width="4.6"/>
<line x1="631.2" y1="1176.3" x2="631.2" y2="1188" stroke="#707070" stroke-width="4.6"/>
<line x1="727.6" y1="1176.3" x2="727.6" y2="1196.5"/>
<line x1="824.0" y1="1176.3" x2="824.0" y2="1188"/>
<line x1="920.4" y1="1176.3" x2="920.4" y2="1196.5"/>
<line x1="1016.8" y1="1176.3" x2="1016.8" y2="1188"/>
<line x1="1113.2" y1="1176.3" x2="1113.2" y2="1196.5"/>
<line x1="1209.6" y1="1176.3" x2="1209.6" y2="1188" stroke="#707070" stroke-width="4.6"/>
<line x1="1306.0" y1="1176.3" x2="1306.0" y2="1196.5" stroke="#707070" stroke-width="4.6"/>
<line x1="1402.4" y1="1176.3" x2="1402.4" y2="1188" stroke="#707070" stroke-width="4.6"/>
<line x1="1497.8" y1="1176.3" x2="1497.8" y2="1196.5" stroke="#707070" stroke-width="4.6"/>
</g>
<g stroke="#606060" stroke-width="5.6" fill="none">
<line x1="247.0" y1="160.5" x2="247.0" y2="1178.6"/>
<line x1="244.7" y1="1176.3" x2="1501" y2="1176.3"/>
</g>
<g clip-path="url(#plot)"><g fill="none" stroke-linejoin="round" stroke-linecap="butt" filter="url(#cblur)">
<use href="#c0" stroke="#000000" stroke-width="9.0" stroke-opacity="0.22"/>
<use href="#c0" stroke="#000000" stroke-width="5.8"/>
<use href="#c1" stroke="#ff0000" stroke-width="12.0" stroke-opacity="0.33"/>
<use href="#c1" stroke="#ff0000" stroke-width="5.8"/>
<use href="#c2" stroke="#0000ff" stroke-width="12.0" stroke-opacity="0.33"/>
<use href="#c2" stroke="#0000ff" stroke-width="5.8"/>
<use href="#c3" stroke="#ff9955" stroke-width="12.0" stroke-opacity="0.33"/>
<use href="#c3" stroke="#ff9955" stroke-width="5.8"/>
<use href="#c4" stroke="#ff00ff" stroke-width="12.0" stroke-opacity="0.33"/>
<use href="#c4" stroke="#ff00ff" stroke-width="5.8"/>
<use href="#c5" stroke="#00ff00" stroke-width="12.0" stroke-opacity="0.33"/>
<use href="#c5" stroke="#00ff00" stroke-width="5.8"/>
<use href="#c6" stroke="#a000a0" stroke-width="12.0" stroke-opacity="0.33"/>
<use href="#c6" stroke="#a000a0" stroke-width="5.8"/>
</g></g>
<rect x="1337" y="16" width="5.4" height="489.5" fill="#e6e6e6"/>
<rect x="1337" y="14.6" width="398" height="1.6" fill="#f6f6f6"/>
<rect x="1337" y="16" width="398" height="3.1" fill="#e3e3e3"/>
<rect x="1338" y="502.5" width="398" height="3.3" fill="#bcbcbc"/>
<rect x="1733.1" y="16" width="2.9" height="489.8" fill="#a2a2a2"/>
<line x1="1360.6" y1="50.7" x2="1495" y2="50.7" stroke="#000000" stroke-width="10.4" stroke-opacity="0.32"/>
<line x1="1360.6" y1="51.0" x2="1495" y2="51.0" stroke="#000000" stroke-width="6.9"/>
<line x1="1360.6" y1="121.7" x2="1495" y2="121.7" stroke="#ff0000" stroke-width="10.4" stroke-opacity="0.32"/>
<line x1="1360.6" y1="122.0" x2="1495" y2="122.0" stroke="#ff0000" stroke-width="6.9"/>
<line x1="1360.6" y1="191.5" x2="1495" y2="191.5" stroke="#0000ff" stroke-width="10.4" stroke-opacity="0.32"/>
<line x1="1360.6" y1="191.8" x2="1495" y2="191.8" stroke="#0000ff" stroke-width="6.9"/>
<line x1="1360.6" y1="261.5" x2="1495" y2="261.5" stroke="#ff9955" stroke-width="10.4" stroke-opacity="0.32"/>
<line x1="1360.6" y1="261.8" x2="1495" y2="261.8" stroke="#ff9955" stroke-width="6.9"/>
<line x1="1360.6" y1="332.0" x2="1495" y2="332.0" stroke="#ff00ff" stroke-width="10.4" stroke-opacity="0.32"/>
<line x1="1360.6" y1="332.3" x2="1495" y2="332.3" stroke="#ff00ff" stroke-width="6.9"/>
<line x1="1360.6" y1="402.4" x2="1495" y2="402.4" stroke="#00ff00" stroke-width="10.4" stroke-opacity="0.32"/>
<line x1="1360.6" y1="402.7" x2="1495" y2="402.7" stroke="#00ff00" stroke-width="6.9"/>
<line x1="1360.6" y1="472.2" x2="1495" y2="472.2" stroke="#a000a0" stroke-width="10.4" stroke-opacity="0.32"/>
<line x1="1360.6" y1="472.5" x2="1495" y2="472.5" stroke="#a000a0" stroke-width="6.9"/>
</g>
<g filter="url(#softer)">
<text x="1521.6" y="69.9" font-size="57">TSC</text>
<text x="1521.6" y="140.9" font-size="57">PVP</text>
<text x="1521.6" y="210.7" font-size="57">Silver 1</text>
<text x="1521.6" y="280.7" font-size="57">Silver 2</text>
<text x="1521.6" y="351.2" font-size="57">Silver 3</text>
<text x="1521.6" y="421.6" font-size="57">Silver 4</text>
<text x="1521.6" y="491.4" font-size="57">Silver 5</text>
<text x="211" y="1185.9" font-size="57" text-anchor="end" class="tk">0.0</text>
<text x="211" y="1041.9" font-size="57" text-anchor="end" class="tk">0.2</text>
<text x="211" y="897.9" font-size="57" text-anchor="end" class="tk">0.4</text>
<text x="211" y="753.9" font-size="57" text-anchor="end" class="tk">0.6</text>
<text x="211" y="609.9" font-size="57" text-anchor="end" class="tk">0.8</text>
<text x="211" y="465.9" font-size="57" text-anchor="end" class="tk">1.0</text>
<text x="211" y="321.9" font-size="57" text-anchor="end" class="tk">1.2</text>
<text x="211" y="177.9" font-size="57" text-anchor="end" class="tk">1.4</text>
<text x="342.0" y="1255.2" font-size="57" text-anchor="middle" class="tk">300</text>
<text x="534.8" y="1255.2" font-size="57" text-anchor="middle" class="tk">400</text>
<text x="727.6" y="1255.2" font-size="57" text-anchor="middle" class="tk">500</text>
<text x="920.4" y="1255.2" font-size="57" text-anchor="middle" class="tk">600</text>
<text x="1113.2" y="1255.2" font-size="57" text-anchor="middle" class="tk">700</text>
<text x="1306.0" y="1255.2" font-size="57" text-anchor="middle" class="tk">800</text>
<text x="1498.8" y="1255.2" font-size="57" text-anchor="middle" class="tk">900</text>
<text x="637" y="1353.5" font-size="61" textLength="470" lengthAdjust="spacingAndGlyphs">Wavelength (nm)</text>
<text transform="translate(56.5,1087.3) rotate(-90)" font-size="61" textLength="838.5" lengthAdjust="spacingAndGlyphs" xml:space="preserve" style="white-space:pre">Normallized  Absorbance (a.b)</text>
</g>
</svg></body></html>
